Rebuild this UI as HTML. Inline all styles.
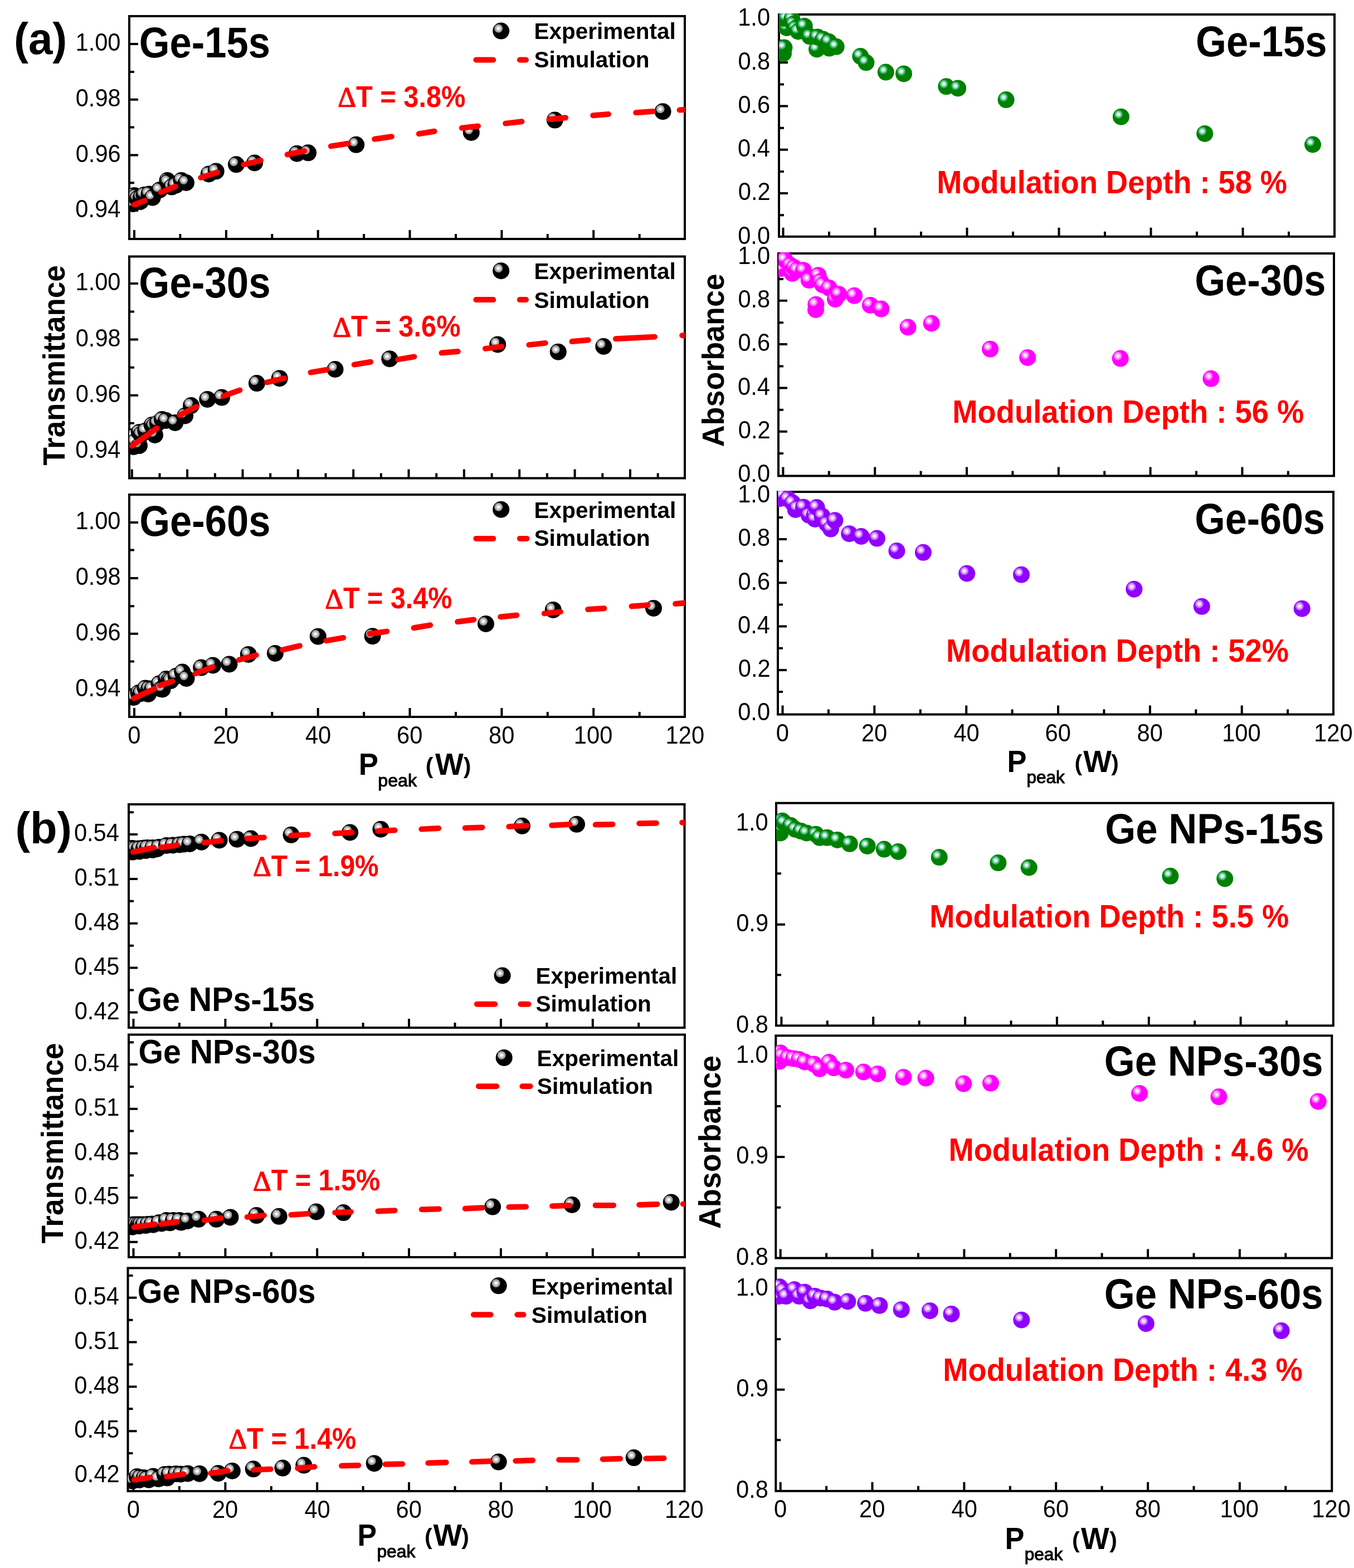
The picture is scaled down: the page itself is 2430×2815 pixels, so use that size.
<!DOCTYPE html><html><head><meta charset="utf-8"><title>Figure</title><style>html,body{margin:0;padding:0;background:#fff;}svg{display:block;}text{font-family:"Liberation Sans",Arial,sans-serif;}</style></head><body>
<svg width="2430" height="2815" viewBox="0 0 2430 2815">
<rect width="2430" height="2815" fill="#fff"/>
<defs><clipPath id="cL1"><rect x="232.0" y="27.0" width="997.5" height="402.0"/></clipPath><clipPath id="cL2"><rect x="232.0" y="458.5" width="997.5" height="400.0"/></clipPath><clipPath id="cL3"><rect x="232.0" y="886.0" width="997.5" height="401.0"/></clipPath><clipPath id="cR1"><rect x="1398.0" y="24.0" width="997.5" height="400.8"/></clipPath><clipPath id="cR2"><rect x="1397.0" y="453.0" width="997.5" height="401.4"/></clipPath><clipPath id="cR3"><rect x="1396.0" y="881.0" width="997.5" height="401.6"/></clipPath><clipPath id="cLB1"><rect x="231.0" y="1442.0" width="998.0" height="403.0"/></clipPath><clipPath id="cLB2"><rect x="231.0" y="1855.5" width="998.5" height="401.5"/></clipPath><clipPath id="cLB3"><rect x="229.5" y="2274.5" width="999.5" height="402.5"/></clipPath><clipPath id="cRB1"><rect x="1393.0" y="1439.7" width="1000.3" height="401.6"/></clipPath><clipPath id="cRB2"><rect x="1392.3" y="1857.3" width="998.5" height="401.3"/></clipPath><clipPath id="cRB3"><rect x="1392.3" y="2274.8" width="998.5" height="402.0"/></clipPath></defs>
<path d="M232.0 79.0H248.0M232.0 178.7H248.0M232.0 278.4H248.0M232.0 378.1H248.0M232.0 128.9H241.0M232.0 228.5H241.0M232.0 328.3H241.0M241.0 429.0V413.0M405.9 429.0V413.0M570.7 429.0V413.0M735.5 429.0V413.0M900.4 429.0V413.0M1065.2 429.0V413.0M323.4 429.0V420.0M488.3 429.0V420.0M653.1 429.0V420.0M818.0 429.0V420.0M982.8 429.0V420.0M1147.7 429.0V420.0" stroke="#000" stroke-width="4" fill="none"/><rect x="232.0" y="29.0" width="997.0" height="400.0" fill="none" stroke="#000" stroke-width="4"/><g clip-path="url(#cL1)"><circle cx="239.0" cy="366.0" r="15" fill="#000000"/><circle cx="234.5" cy="361.5" r="7.5" fill="#9a9a9a"/><circle cx="234.5" cy="361.5" r="5" fill="#cbcbcb"/><circle cx="234.5" cy="361.5" r="2.5" fill="#ffffff"/><circle cx="241.0" cy="351.0" r="15" fill="#000000"/><circle cx="236.5" cy="346.5" r="7.5" fill="#9a9a9a"/><circle cx="236.5" cy="346.5" r="5" fill="#cbcbcb"/><circle cx="236.5" cy="346.5" r="2.5" fill="#ffffff"/><circle cx="243.5" cy="353.0" r="15" fill="#000000"/><circle cx="239.0" cy="348.5" r="7.5" fill="#9a9a9a"/><circle cx="239.0" cy="348.5" r="5" fill="#cbcbcb"/><circle cx="239.0" cy="348.5" r="2.5" fill="#ffffff"/><circle cx="246.5" cy="357.0" r="15" fill="#000000"/><circle cx="242.0" cy="352.5" r="7.5" fill="#9a9a9a"/><circle cx="242.0" cy="352.5" r="5" fill="#cbcbcb"/><circle cx="242.0" cy="352.5" r="2.5" fill="#ffffff"/><circle cx="252.0" cy="362.0" r="15" fill="#000000"/><circle cx="247.5" cy="357.5" r="7.5" fill="#9a9a9a"/><circle cx="247.5" cy="357.5" r="5" fill="#cbcbcb"/><circle cx="247.5" cy="357.5" r="2.5" fill="#ffffff"/><circle cx="253.0" cy="355.0" r="15" fill="#000000"/><circle cx="248.5" cy="350.5" r="7.5" fill="#9a9a9a"/><circle cx="248.5" cy="350.5" r="5" fill="#cbcbcb"/><circle cx="248.5" cy="350.5" r="2.5" fill="#ffffff"/><circle cx="258.5" cy="350.0" r="15" fill="#000000"/><circle cx="254.0" cy="345.5" r="7.5" fill="#9a9a9a"/><circle cx="254.0" cy="345.5" r="5" fill="#cbcbcb"/><circle cx="254.0" cy="345.5" r="2.5" fill="#ffffff"/><circle cx="267.5" cy="348.5" r="15" fill="#000000"/><circle cx="263.0" cy="344.0" r="7.5" fill="#9a9a9a"/><circle cx="263.0" cy="344.0" r="5" fill="#cbcbcb"/><circle cx="263.0" cy="344.0" r="2.5" fill="#ffffff"/><circle cx="273.7" cy="354.7" r="15" fill="#000000"/><circle cx="269.2" cy="350.2" r="7.5" fill="#9a9a9a"/><circle cx="269.2" cy="350.2" r="5" fill="#cbcbcb"/><circle cx="269.2" cy="350.2" r="2.5" fill="#ffffff"/><circle cx="286.3" cy="341.2" r="15" fill="#000000"/><circle cx="281.8" cy="336.7" r="7.5" fill="#9a9a9a"/><circle cx="281.8" cy="336.7" r="5" fill="#cbcbcb"/><circle cx="281.8" cy="336.7" r="2.5" fill="#ffffff"/><circle cx="300.4" cy="324.0" r="15" fill="#000000"/><circle cx="295.9" cy="319.5" r="7.5" fill="#9a9a9a"/><circle cx="295.9" cy="319.5" r="5" fill="#cbcbcb"/><circle cx="295.9" cy="319.5" r="2.5" fill="#ffffff"/><circle cx="301.4" cy="327.0" r="15" fill="#000000"/><circle cx="296.9" cy="322.5" r="7.5" fill="#9a9a9a"/><circle cx="296.9" cy="322.5" r="5" fill="#cbcbcb"/><circle cx="296.9" cy="322.5" r="2.5" fill="#ffffff"/><circle cx="308.0" cy="335.6" r="15" fill="#000000"/><circle cx="303.5" cy="331.1" r="7.5" fill="#9a9a9a"/><circle cx="303.5" cy="331.1" r="5" fill="#cbcbcb"/><circle cx="303.5" cy="331.1" r="2.5" fill="#ffffff"/><circle cx="315.5" cy="332.6" r="15" fill="#000000"/><circle cx="311.0" cy="328.1" r="7.5" fill="#9a9a9a"/><circle cx="311.0" cy="328.1" r="5" fill="#cbcbcb"/><circle cx="311.0" cy="328.1" r="2.5" fill="#ffffff"/><circle cx="325.5" cy="324.0" r="15" fill="#000000"/><circle cx="321.0" cy="319.5" r="7.5" fill="#9a9a9a"/><circle cx="321.0" cy="319.5" r="5" fill="#cbcbcb"/><circle cx="321.0" cy="319.5" r="2.5" fill="#ffffff"/><circle cx="334.0" cy="328.0" r="15" fill="#000000"/><circle cx="329.5" cy="323.5" r="7.5" fill="#9a9a9a"/><circle cx="329.5" cy="323.5" r="5" fill="#cbcbcb"/><circle cx="329.5" cy="323.5" r="2.5" fill="#ffffff"/><circle cx="374.8" cy="312.4" r="15" fill="#000000"/><circle cx="370.3" cy="307.9" r="7.5" fill="#9a9a9a"/><circle cx="370.3" cy="307.9" r="5" fill="#cbcbcb"/><circle cx="370.3" cy="307.9" r="2.5" fill="#ffffff"/><circle cx="387.7" cy="307.4" r="15" fill="#000000"/><circle cx="383.2" cy="302.9" r="7.5" fill="#9a9a9a"/><circle cx="383.2" cy="302.9" r="5" fill="#cbcbcb"/><circle cx="383.2" cy="302.9" r="2.5" fill="#ffffff"/><circle cx="424.0" cy="295.3" r="15" fill="#000000"/><circle cx="419.5" cy="290.8" r="7.5" fill="#9a9a9a"/><circle cx="419.5" cy="290.8" r="5" fill="#cbcbcb"/><circle cx="419.5" cy="290.8" r="2.5" fill="#ffffff"/><circle cx="457.0" cy="292.5" r="15" fill="#000000"/><circle cx="452.5" cy="288.0" r="7.5" fill="#9a9a9a"/><circle cx="452.5" cy="288.0" r="5" fill="#cbcbcb"/><circle cx="452.5" cy="288.0" r="2.5" fill="#ffffff"/><circle cx="533.0" cy="275.7" r="15" fill="#000000"/><circle cx="528.5" cy="271.2" r="7.5" fill="#9a9a9a"/><circle cx="528.5" cy="271.2" r="5" fill="#cbcbcb"/><circle cx="528.5" cy="271.2" r="2.5" fill="#ffffff"/><circle cx="553.1" cy="274.3" r="15" fill="#000000"/><circle cx="548.6" cy="269.8" r="7.5" fill="#9a9a9a"/><circle cx="548.6" cy="269.8" r="5" fill="#cbcbcb"/><circle cx="548.6" cy="269.8" r="2.5" fill="#ffffff"/><circle cx="639.2" cy="259.8" r="15" fill="#000000"/><circle cx="634.7" cy="255.3" r="7.5" fill="#9a9a9a"/><circle cx="634.7" cy="255.3" r="5" fill="#cbcbcb"/><circle cx="634.7" cy="255.3" r="2.5" fill="#ffffff"/><circle cx="845.8" cy="237.9" r="15" fill="#000000"/><circle cx="841.3" cy="233.4" r="7.5" fill="#9a9a9a"/><circle cx="841.3" cy="233.4" r="5" fill="#cbcbcb"/><circle cx="841.3" cy="233.4" r="2.5" fill="#ffffff"/><circle cx="995.8" cy="215.6" r="15" fill="#000000"/><circle cx="991.3" cy="211.1" r="7.5" fill="#9a9a9a"/><circle cx="991.3" cy="211.1" r="5" fill="#cbcbcb"/><circle cx="991.3" cy="211.1" r="2.5" fill="#ffffff"/><circle cx="1189.6" cy="200.2" r="15" fill="#000000"/><circle cx="1185.1" cy="195.7" r="7.5" fill="#9a9a9a"/><circle cx="1185.1" cy="195.7" r="5" fill="#cbcbcb"/><circle cx="1185.1" cy="195.7" r="2.5" fill="#ffffff"/><g stroke="#ff0000" stroke-width="10" stroke-linecap="round"><line x1="241.4" y1="367.5" x2="260.1" y2="360.1"/><line x1="288.9" y1="345.1" x2="314.6" y2="334.9"/><line x1="360.3" y1="318.9" x2="389.9" y2="309.4"/><line x1="437.3" y1="295.5" x2="468.0" y2="288.1"/><line x1="515.6" y1="277.5" x2="546.3" y2="271.1"/><line x1="593.8" y1="262.4" x2="624.5" y2="257.8"/><line x1="672.1" y1="249.8" x2="702.8" y2="245.2"/><line x1="751.7" y1="240.2" x2="779.6" y2="235.8"/><line x1="828.8" y1="229.8" x2="858.0" y2="226.5"/><line x1="907.2" y1="221.6" x2="936.5" y2="218.3"/><line x1="985.7" y1="214.2" x2="1015.0" y2="211.3"/><line x1="1064.2" y1="207.3" x2="1092.0" y2="205.1"/><line x1="1141.2" y1="202.2" x2="1172.0" y2="200.0"/><line x1="1219.6" y1="197.6" x2="1231.0" y2="196.8"/></g></g><text x="135.5" y="91.2" font-size="43.5" font-weight="normal" fill="#000" textLength="81.0" lengthAdjust="spacingAndGlyphs">1.00</text><text x="135.7" y="190.9" font-size="43.5" font-weight="normal" fill="#000" textLength="81.0" lengthAdjust="spacingAndGlyphs">0.98</text><text x="135.7" y="290.6" font-size="43.5" font-weight="normal" fill="#000" textLength="81.0" lengthAdjust="spacingAndGlyphs">0.96</text><text x="135.3" y="390.3" font-size="43.5" font-weight="normal" fill="#000" textLength="81.0" lengthAdjust="spacingAndGlyphs">0.94</text>
<path d="M232.0 509.0H248.0M232.0 609.5H248.0M232.0 709.8H248.0M232.0 810.0H248.0M232.0 559.6H241.0M232.0 659.8H241.0M232.0 759.7H241.0M236.8 858.5V842.5M336.1 858.5V842.5M435.5 858.5V842.5M534.8 858.5V842.5M634.2 858.5V842.5M733.5 858.5V842.5M832.9 858.5V842.5M932.2 858.5V842.5M1031.6 858.5V842.5M1131.0 858.5V842.5M286.5 858.5V849.5M385.9 858.5V849.5M485.2 858.5V849.5M584.5 858.5V849.5M683.9 858.5V849.5M783.2 858.5V849.5M882.6 858.5V849.5M981.9 858.5V849.5M1081.3 858.5V849.5M1180.7 858.5V849.5" stroke="#000" stroke-width="4" fill="none"/><rect x="232.0" y="460.5" width="997.0" height="398.0" fill="none" stroke="#000" stroke-width="4"/><g clip-path="url(#cL2)"><circle cx="237.5" cy="784.1" r="15" fill="#000000"/><circle cx="233.0" cy="779.6" r="7.5" fill="#9a9a9a"/><circle cx="233.0" cy="779.6" r="5" fill="#cbcbcb"/><circle cx="233.0" cy="779.6" r="2.5" fill="#ffffff"/><circle cx="240.0" cy="802.0" r="15" fill="#000000"/><circle cx="235.5" cy="797.5" r="7.5" fill="#9a9a9a"/><circle cx="235.5" cy="797.5" r="5" fill="#cbcbcb"/><circle cx="235.5" cy="797.5" r="2.5" fill="#ffffff"/><circle cx="241.9" cy="792.9" r="15" fill="#000000"/><circle cx="237.4" cy="788.4" r="7.5" fill="#9a9a9a"/><circle cx="237.4" cy="788.4" r="5" fill="#cbcbcb"/><circle cx="237.4" cy="788.4" r="2.5" fill="#ffffff"/><circle cx="249.9" cy="776.0" r="15" fill="#000000"/><circle cx="245.4" cy="771.5" r="7.5" fill="#9a9a9a"/><circle cx="245.4" cy="771.5" r="5" fill="#cbcbcb"/><circle cx="245.4" cy="771.5" r="2.5" fill="#ffffff"/><circle cx="250.0" cy="800.0" r="15" fill="#000000"/><circle cx="245.5" cy="795.5" r="7.5" fill="#9a9a9a"/><circle cx="245.5" cy="795.5" r="5" fill="#cbcbcb"/><circle cx="245.5" cy="795.5" r="2.5" fill="#ffffff"/><circle cx="253.3" cy="780.1" r="15" fill="#000000"/><circle cx="248.8" cy="775.6" r="7.5" fill="#9a9a9a"/><circle cx="248.8" cy="775.6" r="5" fill="#cbcbcb"/><circle cx="248.8" cy="775.6" r="2.5" fill="#ffffff"/><circle cx="261.3" cy="773.4" r="15" fill="#000000"/><circle cx="256.8" cy="768.9" r="7.5" fill="#9a9a9a"/><circle cx="256.8" cy="768.9" r="5" fill="#cbcbcb"/><circle cx="256.8" cy="768.9" r="2.5" fill="#ffffff"/><circle cx="272.7" cy="763.0" r="15" fill="#000000"/><circle cx="268.2" cy="758.5" r="7.5" fill="#9a9a9a"/><circle cx="268.2" cy="758.5" r="5" fill="#cbcbcb"/><circle cx="268.2" cy="758.5" r="2.5" fill="#ffffff"/><circle cx="276.1" cy="765.4" r="15" fill="#000000"/><circle cx="271.6" cy="760.9" r="7.5" fill="#9a9a9a"/><circle cx="271.6" cy="760.9" r="5" fill="#cbcbcb"/><circle cx="271.6" cy="760.9" r="2.5" fill="#ffffff"/><circle cx="278.0" cy="781.0" r="15" fill="#000000"/><circle cx="273.5" cy="776.5" r="7.5" fill="#9a9a9a"/><circle cx="273.5" cy="776.5" r="5" fill="#cbcbcb"/><circle cx="273.5" cy="776.5" r="2.5" fill="#ffffff"/><circle cx="282.8" cy="760.0" r="15" fill="#000000"/><circle cx="278.3" cy="755.5" r="7.5" fill="#9a9a9a"/><circle cx="278.3" cy="755.5" r="5" fill="#cbcbcb"/><circle cx="278.3" cy="755.5" r="2.5" fill="#ffffff"/><circle cx="290.9" cy="753.0" r="15" fill="#000000"/><circle cx="286.4" cy="748.5" r="7.5" fill="#9a9a9a"/><circle cx="286.4" cy="748.5" r="5" fill="#cbcbcb"/><circle cx="286.4" cy="748.5" r="2.5" fill="#ffffff"/><circle cx="297.9" cy="755.0" r="15" fill="#000000"/><circle cx="293.4" cy="750.5" r="7.5" fill="#9a9a9a"/><circle cx="293.4" cy="750.5" r="5" fill="#cbcbcb"/><circle cx="293.4" cy="750.5" r="2.5" fill="#ffffff"/><circle cx="314.3" cy="759.0" r="15" fill="#000000"/><circle cx="309.8" cy="754.5" r="7.5" fill="#9a9a9a"/><circle cx="309.8" cy="754.5" r="5" fill="#cbcbcb"/><circle cx="309.8" cy="754.5" r="2.5" fill="#ffffff"/><circle cx="332.1" cy="746.5" r="15" fill="#000000"/><circle cx="327.6" cy="742.0" r="7.5" fill="#9a9a9a"/><circle cx="327.6" cy="742.0" r="5" fill="#cbcbcb"/><circle cx="327.6" cy="742.0" r="2.5" fill="#ffffff"/><circle cx="343.0" cy="728.1" r="15" fill="#000000"/><circle cx="338.5" cy="723.6" r="7.5" fill="#9a9a9a"/><circle cx="338.5" cy="723.6" r="5" fill="#cbcbcb"/><circle cx="338.5" cy="723.6" r="2.5" fill="#ffffff"/><circle cx="372.3" cy="716.9" r="15" fill="#000000"/><circle cx="367.8" cy="712.4" r="7.5" fill="#9a9a9a"/><circle cx="367.8" cy="712.4" r="5" fill="#cbcbcb"/><circle cx="367.8" cy="712.4" r="2.5" fill="#ffffff"/><circle cx="398.0" cy="713.6" r="15" fill="#000000"/><circle cx="393.5" cy="709.1" r="7.5" fill="#9a9a9a"/><circle cx="393.5" cy="709.1" r="5" fill="#cbcbcb"/><circle cx="393.5" cy="709.1" r="2.5" fill="#ffffff"/><circle cx="460.9" cy="688.1" r="15" fill="#000000"/><circle cx="456.4" cy="683.6" r="7.5" fill="#9a9a9a"/><circle cx="456.4" cy="683.6" r="5" fill="#cbcbcb"/><circle cx="456.4" cy="683.6" r="2.5" fill="#ffffff"/><circle cx="501.7" cy="679.2" r="15" fill="#000000"/><circle cx="497.2" cy="674.7" r="7.5" fill="#9a9a9a"/><circle cx="497.2" cy="674.7" r="5" fill="#cbcbcb"/><circle cx="497.2" cy="674.7" r="2.5" fill="#ffffff"/><circle cx="601.5" cy="663.0" r="15" fill="#000000"/><circle cx="597.0" cy="658.5" r="7.5" fill="#9a9a9a"/><circle cx="597.0" cy="658.5" r="5" fill="#cbcbcb"/><circle cx="597.0" cy="658.5" r="2.5" fill="#ffffff"/><circle cx="699.3" cy="644.2" r="15" fill="#000000"/><circle cx="694.8" cy="639.7" r="7.5" fill="#9a9a9a"/><circle cx="694.8" cy="639.7" r="5" fill="#cbcbcb"/><circle cx="694.8" cy="639.7" r="2.5" fill="#ffffff"/><circle cx="893.2" cy="618.4" r="15" fill="#000000"/><circle cx="888.7" cy="613.9" r="7.5" fill="#9a9a9a"/><circle cx="888.7" cy="613.9" r="5" fill="#cbcbcb"/><circle cx="888.7" cy="613.9" r="2.5" fill="#ffffff"/><circle cx="1001.8" cy="631.7" r="15" fill="#000000"/><circle cx="997.3" cy="627.2" r="7.5" fill="#9a9a9a"/><circle cx="997.3" cy="627.2" r="5" fill="#cbcbcb"/><circle cx="997.3" cy="627.2" r="2.5" fill="#ffffff"/><circle cx="1083.3" cy="622.0" r="15" fill="#000000"/><circle cx="1078.8" cy="617.5" r="7.5" fill="#9a9a9a"/><circle cx="1078.8" cy="617.5" r="5" fill="#cbcbcb"/><circle cx="1078.8" cy="617.5" r="2.5" fill="#ffffff"/><g stroke="#ff0000" stroke-width="10" stroke-linecap="round"><line x1="236.7" y1="800.6" x2="281.6" y2="768.7"/><line x1="322.3" y1="745.5" x2="352.5" y2="730.3"/><line x1="400.8" y1="711.0" x2="430.5" y2="700.4"/><line x1="479.2" y1="686.4" x2="510.0" y2="679.0"/><line x1="557.5" y1="668.6" x2="586.8" y2="663.8"/><line x1="635.7" y1="654.6" x2="665.1" y2="649.8"/><line x1="713.9" y1="645.4" x2="743.4" y2="640.4"/><line x1="792.5" y1="633.6" x2="821.8" y2="631.0"/><line x1="871.0" y1="625.9" x2="900.3" y2="622.1"/><line x1="949.5" y1="619.1" x2="978.7" y2="615.9"/><line x1="1026.5" y1="613.1" x2="1055.7" y2="610.5"/><line x1="1104.9" y1="608.3" x2="1174.9" y2="604.7"/><line x1="1224.2" y1="602.2" x2="1231.0" y2="602.0"/></g></g><text x="135.5" y="521.2" font-size="43.5" font-weight="normal" fill="#000" textLength="81.0" lengthAdjust="spacingAndGlyphs">1.00</text><text x="135.7" y="621.7" font-size="43.5" font-weight="normal" fill="#000" textLength="81.0" lengthAdjust="spacingAndGlyphs">0.98</text><text x="135.7" y="722.0" font-size="43.5" font-weight="normal" fill="#000" textLength="81.0" lengthAdjust="spacingAndGlyphs">0.96</text><text x="135.3" y="822.2" font-size="43.5" font-weight="normal" fill="#000" textLength="81.0" lengthAdjust="spacingAndGlyphs">0.94</text>
<path d="M232.0 938.1H248.0M232.0 1037.9H248.0M232.0 1137.7H248.0M232.0 1237.7H248.0M232.0 987.6H241.0M232.0 1088.2H241.0M232.0 1187.4H241.0M241.0 1287.0V1271.0M405.9 1287.0V1271.0M570.7 1287.0V1271.0M735.5 1287.0V1271.0M900.4 1287.0V1271.0M1065.2 1287.0V1271.0M323.4 1287.0V1278.0M488.3 1287.0V1278.0M653.1 1287.0V1278.0M818.0 1287.0V1278.0M982.8 1287.0V1278.0M1147.7 1287.0V1278.0" stroke="#000" stroke-width="4" fill="none"/><rect x="232.0" y="888.0" width="997.0" height="399.0" fill="none" stroke="#000" stroke-width="4"/><g clip-path="url(#cL3)"><circle cx="240.0" cy="1252.0" r="15" fill="#000000"/><circle cx="235.5" cy="1247.5" r="7.5" fill="#9a9a9a"/><circle cx="235.5" cy="1247.5" r="5" fill="#cbcbcb"/><circle cx="235.5" cy="1247.5" r="2.5" fill="#ffffff"/><circle cx="248.6" cy="1244.0" r="15" fill="#000000"/><circle cx="244.1" cy="1239.5" r="7.5" fill="#9a9a9a"/><circle cx="244.1" cy="1239.5" r="5" fill="#cbcbcb"/><circle cx="244.1" cy="1239.5" r="2.5" fill="#ffffff"/><circle cx="252.6" cy="1245.0" r="15" fill="#000000"/><circle cx="248.1" cy="1240.5" r="7.5" fill="#9a9a9a"/><circle cx="248.1" cy="1240.5" r="5" fill="#cbcbcb"/><circle cx="248.1" cy="1240.5" r="2.5" fill="#ffffff"/><circle cx="260.7" cy="1235.5" r="15" fill="#000000"/><circle cx="256.2" cy="1231.0" r="7.5" fill="#9a9a9a"/><circle cx="256.2" cy="1231.0" r="5" fill="#cbcbcb"/><circle cx="256.2" cy="1231.0" r="2.5" fill="#ffffff"/><circle cx="266.0" cy="1246.0" r="15" fill="#000000"/><circle cx="261.5" cy="1241.5" r="7.5" fill="#9a9a9a"/><circle cx="261.5" cy="1241.5" r="5" fill="#cbcbcb"/><circle cx="261.5" cy="1241.5" r="2.5" fill="#ffffff"/><circle cx="267.4" cy="1236.5" r="15" fill="#000000"/><circle cx="262.9" cy="1232.0" r="7.5" fill="#9a9a9a"/><circle cx="262.9" cy="1232.0" r="5" fill="#cbcbcb"/><circle cx="262.9" cy="1232.0" r="2.5" fill="#ffffff"/><circle cx="273.4" cy="1237.0" r="15" fill="#000000"/><circle cx="268.9" cy="1232.5" r="7.5" fill="#9a9a9a"/><circle cx="268.9" cy="1232.5" r="5" fill="#cbcbcb"/><circle cx="268.9" cy="1232.5" r="2.5" fill="#ffffff"/><circle cx="285.5" cy="1227.5" r="15" fill="#000000"/><circle cx="281.0" cy="1223.0" r="7.5" fill="#9a9a9a"/><circle cx="281.0" cy="1223.0" r="5" fill="#cbcbcb"/><circle cx="281.0" cy="1223.0" r="2.5" fill="#ffffff"/><circle cx="289.0" cy="1237.0" r="15" fill="#000000"/><circle cx="284.5" cy="1232.5" r="7.5" fill="#9a9a9a"/><circle cx="284.5" cy="1232.5" r="5" fill="#cbcbcb"/><circle cx="284.5" cy="1232.5" r="2.5" fill="#ffffff"/><circle cx="291.5" cy="1237.5" r="15" fill="#000000"/><circle cx="287.0" cy="1233.0" r="7.5" fill="#9a9a9a"/><circle cx="287.0" cy="1233.0" r="5" fill="#cbcbcb"/><circle cx="287.0" cy="1233.0" r="2.5" fill="#ffffff"/><circle cx="298.2" cy="1219.0" r="15" fill="#000000"/><circle cx="293.7" cy="1214.5" r="7.5" fill="#9a9a9a"/><circle cx="293.7" cy="1214.5" r="5" fill="#cbcbcb"/><circle cx="293.7" cy="1214.5" r="2.5" fill="#ffffff"/><circle cx="303.6" cy="1220.5" r="15" fill="#000000"/><circle cx="299.1" cy="1216.0" r="7.5" fill="#9a9a9a"/><circle cx="299.1" cy="1216.0" r="5" fill="#cbcbcb"/><circle cx="299.1" cy="1216.0" r="2.5" fill="#ffffff"/><circle cx="306.3" cy="1222.1" r="15" fill="#000000"/><circle cx="301.8" cy="1217.6" r="7.5" fill="#9a9a9a"/><circle cx="301.8" cy="1217.6" r="5" fill="#cbcbcb"/><circle cx="301.8" cy="1217.6" r="2.5" fill="#ffffff"/><circle cx="315.7" cy="1214.0" r="15" fill="#000000"/><circle cx="311.2" cy="1209.5" r="7.5" fill="#9a9a9a"/><circle cx="311.2" cy="1209.5" r="5" fill="#cbcbcb"/><circle cx="311.2" cy="1209.5" r="2.5" fill="#ffffff"/><circle cx="327.4" cy="1206.6" r="15" fill="#000000"/><circle cx="322.9" cy="1202.1" r="7.5" fill="#9a9a9a"/><circle cx="322.9" cy="1202.1" r="5" fill="#cbcbcb"/><circle cx="322.9" cy="1202.1" r="2.5" fill="#ffffff"/><circle cx="334.5" cy="1218.0" r="15" fill="#000000"/><circle cx="330.0" cy="1213.5" r="7.5" fill="#9a9a9a"/><circle cx="330.0" cy="1213.5" r="5" fill="#cbcbcb"/><circle cx="330.0" cy="1213.5" r="2.5" fill="#ffffff"/><circle cx="361.1" cy="1198.6" r="15" fill="#000000"/><circle cx="356.6" cy="1194.1" r="7.5" fill="#9a9a9a"/><circle cx="356.6" cy="1194.1" r="5" fill="#cbcbcb"/><circle cx="356.6" cy="1194.1" r="2.5" fill="#ffffff"/><circle cx="382.1" cy="1194.4" r="15" fill="#000000"/><circle cx="377.6" cy="1189.9" r="7.5" fill="#9a9a9a"/><circle cx="377.6" cy="1189.9" r="5" fill="#cbcbcb"/><circle cx="377.6" cy="1189.9" r="2.5" fill="#ffffff"/><circle cx="411.4" cy="1192.5" r="15" fill="#000000"/><circle cx="406.9" cy="1188.0" r="7.5" fill="#9a9a9a"/><circle cx="406.9" cy="1188.0" r="5" fill="#cbcbcb"/><circle cx="406.9" cy="1188.0" r="2.5" fill="#ffffff"/><circle cx="445.8" cy="1174.9" r="15" fill="#000000"/><circle cx="441.3" cy="1170.4" r="7.5" fill="#9a9a9a"/><circle cx="441.3" cy="1170.4" r="5" fill="#cbcbcb"/><circle cx="441.3" cy="1170.4" r="2.5" fill="#ffffff"/><circle cx="493.9" cy="1172.9" r="15" fill="#000000"/><circle cx="489.4" cy="1168.4" r="7.5" fill="#9a9a9a"/><circle cx="489.4" cy="1168.4" r="5" fill="#cbcbcb"/><circle cx="489.4" cy="1168.4" r="2.5" fill="#ffffff"/><circle cx="570.8" cy="1142.7" r="15" fill="#000000"/><circle cx="566.3" cy="1138.2" r="7.5" fill="#9a9a9a"/><circle cx="566.3" cy="1138.2" r="5" fill="#cbcbcb"/><circle cx="566.3" cy="1138.2" r="2.5" fill="#ffffff"/><circle cx="668.6" cy="1142.2" r="15" fill="#000000"/><circle cx="664.1" cy="1137.7" r="7.5" fill="#9a9a9a"/><circle cx="664.1" cy="1137.7" r="5" fill="#cbcbcb"/><circle cx="664.1" cy="1137.7" r="2.5" fill="#ffffff"/><circle cx="872.0" cy="1120.0" r="15" fill="#000000"/><circle cx="867.5" cy="1115.5" r="7.5" fill="#9a9a9a"/><circle cx="867.5" cy="1115.5" r="5" fill="#cbcbcb"/><circle cx="867.5" cy="1115.5" r="2.5" fill="#ffffff"/><circle cx="992.8" cy="1094.9" r="15" fill="#000000"/><circle cx="988.3" cy="1090.4" r="7.5" fill="#9a9a9a"/><circle cx="988.3" cy="1090.4" r="5" fill="#cbcbcb"/><circle cx="988.3" cy="1090.4" r="2.5" fill="#ffffff"/><circle cx="1173.0" cy="1091.9" r="15" fill="#000000"/><circle cx="1168.5" cy="1087.4" r="7.5" fill="#9a9a9a"/><circle cx="1168.5" cy="1087.4" r="5" fill="#cbcbcb"/><circle cx="1168.5" cy="1087.4" r="2.5" fill="#ffffff"/><g stroke="#ff0000" stroke-width="10" stroke-linecap="round"><line x1="240.5" y1="1253.7" x2="277.2" y2="1236.4"/><line x1="287.0" y1="1230.7" x2="309.2" y2="1223.2"/><line x1="350.5" y1="1209.4" x2="381.6" y2="1197.6"/><line x1="428.8" y1="1184.7" x2="459.8" y2="1176.2"/><line x1="507.2" y1="1166.7" x2="537.9" y2="1159.3"/><line x1="585.4" y1="1150.3" x2="616.2" y2="1144.9"/><line x1="663.8" y1="1137.8" x2="694.3" y2="1133.6"/><line x1="742.6" y1="1127.3" x2="772.1" y2="1122.3"/><line x1="821.2" y1="1116.3" x2="850.4" y2="1112.5"/><line x1="898.2" y1="1107.4" x2="927.4" y2="1104.5"/><line x1="976.7" y1="1101.4" x2="1005.9" y2="1098.4"/><line x1="1055.1" y1="1094.0" x2="1084.4" y2="1092.2"/><line x1="1133.6" y1="1088.5" x2="1162.9" y2="1086.3"/><line x1="1212.1" y1="1084.1" x2="1231.0" y2="1082.3"/></g></g><text x="135.5" y="950.3" font-size="43.5" font-weight="normal" fill="#000" textLength="81.0" lengthAdjust="spacingAndGlyphs">1.00</text><text x="135.7" y="1050.1" font-size="43.5" font-weight="normal" fill="#000" textLength="81.0" lengthAdjust="spacingAndGlyphs">0.98</text><text x="135.7" y="1149.9" font-size="43.5" font-weight="normal" fill="#000" textLength="81.0" lengthAdjust="spacingAndGlyphs">0.96</text><text x="135.3" y="1249.9" font-size="43.5" font-weight="normal" fill="#000" textLength="81.0" lengthAdjust="spacingAndGlyphs">0.94</text><text x="229.3" y="1334.6" font-size="43.5" font-weight="normal" fill="#000" textLength="23.2" lengthAdjust="spacingAndGlyphs">0</text><text x="382.4" y="1334.6" font-size="43.5" font-weight="normal" fill="#000" textLength="46.3" lengthAdjust="spacingAndGlyphs">20</text><text x="547.9" y="1334.6" font-size="43.5" font-weight="normal" fill="#000" textLength="46.3" lengthAdjust="spacingAndGlyphs">40</text><text x="712.1" y="1334.6" font-size="43.5" font-weight="normal" fill="#000" textLength="46.3" lengthAdjust="spacingAndGlyphs">60</text><text x="877.1" y="1334.6" font-size="43.5" font-weight="normal" fill="#000" textLength="46.3" lengthAdjust="spacingAndGlyphs">80</text><text x="1029.8" y="1334.6" font-size="43.5" font-weight="normal" fill="#000" textLength="69.5" lengthAdjust="spacingAndGlyphs">100</text><text x="1194.6" y="1334.6" font-size="43.5" font-weight="normal" fill="#000" textLength="69.5" lengthAdjust="spacingAndGlyphs">120</text>
<path d="M1398.0 34.0H1414.0M1398.0 112.3H1414.0M1398.0 190.5H1414.0M1398.0 268.8H1414.0M1398.0 347.0H1414.0M1398.0 73.2H1407.0M1398.0 151.5H1407.0M1398.0 229.7H1407.0M1398.0 308.0H1407.0M1398.0 386.2H1407.0M1405.5 424.8V408.8M1570.5 424.8V408.8M1735.5 424.8V408.8M1900.5 424.8V408.8M2065.5 424.8V408.8M2230.5 424.8V408.8M1488.0 424.8V415.8M1653.0 424.8V415.8M1818.0 424.8V415.8M1983.0 424.8V415.8M2148.0 424.8V415.8M2313.0 424.8V415.8" stroke="#000" stroke-width="4" fill="none"/><rect x="1398.0" y="26.0" width="997.0" height="398.8" fill="none" stroke="#000" stroke-width="4"/><g clip-path="url(#cR1)"><circle cx="1466.0" cy="88.5" r="15" fill="#008000"/><circle cx="1461.5" cy="84.0" r="7.5" fill="#33b874"/><circle cx="1461.5" cy="84.0" r="5" fill="#a6dcb9"/><circle cx="1461.5" cy="84.0" r="2.5" fill="#f4fff6"/><circle cx="1488.4" cy="86.6" r="15" fill="#008000"/><circle cx="1483.9" cy="82.1" r="7.5" fill="#33b874"/><circle cx="1483.9" cy="82.1" r="5" fill="#a6dcb9"/><circle cx="1483.9" cy="82.1" r="2.5" fill="#f4fff6"/><circle cx="1405.0" cy="45.0" r="15" fill="#008000"/><circle cx="1400.5" cy="40.5" r="7.5" fill="#33b874"/><circle cx="1400.5" cy="40.5" r="5" fill="#a6dcb9"/><circle cx="1400.5" cy="40.5" r="2.5" fill="#f4fff6"/><circle cx="1412.0" cy="50.0" r="15" fill="#008000"/><circle cx="1407.5" cy="45.5" r="7.5" fill="#33b874"/><circle cx="1407.5" cy="45.5" r="5" fill="#a6dcb9"/><circle cx="1407.5" cy="45.5" r="2.5" fill="#f4fff6"/><circle cx="1406.0" cy="96.0" r="15" fill="#008000"/><circle cx="1401.5" cy="91.5" r="7.5" fill="#33b874"/><circle cx="1401.5" cy="91.5" r="5" fill="#a6dcb9"/><circle cx="1401.5" cy="91.5" r="2.5" fill="#f4fff6"/><circle cx="1405.7" cy="32.9" r="15" fill="#008000"/><circle cx="1401.2" cy="28.4" r="7.5" fill="#33b874"/><circle cx="1401.2" cy="28.4" r="5" fill="#a6dcb9"/><circle cx="1401.2" cy="28.4" r="2.5" fill="#f4fff6"/><circle cx="1407.4" cy="85.5" r="15" fill="#008000"/><circle cx="1402.9" cy="81.0" r="7.5" fill="#33b874"/><circle cx="1402.9" cy="81.0" r="5" fill="#a6dcb9"/><circle cx="1402.9" cy="81.0" r="2.5" fill="#f4fff6"/><circle cx="1411.3" cy="32.9" r="15" fill="#008000"/><circle cx="1406.8" cy="28.4" r="7.5" fill="#33b874"/><circle cx="1406.8" cy="28.4" r="5" fill="#a6dcb9"/><circle cx="1406.8" cy="28.4" r="2.5" fill="#f4fff6"/><circle cx="1421.3" cy="34.0" r="15" fill="#008000"/><circle cx="1416.8" cy="29.5" r="7.5" fill="#33b874"/><circle cx="1416.8" cy="29.5" r="5" fill="#a6dcb9"/><circle cx="1416.8" cy="29.5" r="2.5" fill="#f4fff6"/><circle cx="1424.1" cy="43.0" r="15" fill="#008000"/><circle cx="1419.6" cy="38.5" r="7.5" fill="#33b874"/><circle cx="1419.6" cy="38.5" r="5" fill="#a6dcb9"/><circle cx="1419.6" cy="38.5" r="2.5" fill="#f4fff6"/><circle cx="1428.0" cy="50.8" r="15" fill="#008000"/><circle cx="1423.5" cy="46.3" r="7.5" fill="#33b874"/><circle cx="1423.5" cy="46.3" r="5" fill="#a6dcb9"/><circle cx="1423.5" cy="46.3" r="2.5" fill="#f4fff6"/><circle cx="1432.5" cy="56.4" r="15" fill="#008000"/><circle cx="1428.0" cy="51.9" r="7.5" fill="#33b874"/><circle cx="1428.0" cy="51.9" r="5" fill="#a6dcb9"/><circle cx="1428.0" cy="51.9" r="2.5" fill="#f4fff6"/><circle cx="1443.7" cy="46.9" r="15" fill="#008000"/><circle cx="1439.2" cy="42.4" r="7.5" fill="#33b874"/><circle cx="1439.2" cy="42.4" r="5" fill="#a6dcb9"/><circle cx="1439.2" cy="42.4" r="2.5" fill="#f4fff6"/><circle cx="1453.2" cy="65.3" r="15" fill="#008000"/><circle cx="1448.7" cy="60.8" r="7.5" fill="#33b874"/><circle cx="1448.7" cy="60.8" r="5" fill="#a6dcb9"/><circle cx="1448.7" cy="60.8" r="2.5" fill="#f4fff6"/><circle cx="1467.2" cy="66.5" r="15" fill="#008000"/><circle cx="1462.7" cy="62.0" r="7.5" fill="#33b874"/><circle cx="1462.7" cy="62.0" r="5" fill="#a6dcb9"/><circle cx="1462.7" cy="62.0" r="2.5" fill="#f4fff6"/><circle cx="1477.2" cy="70.4" r="15" fill="#008000"/><circle cx="1472.7" cy="65.9" r="7.5" fill="#33b874"/><circle cx="1472.7" cy="65.9" r="5" fill="#a6dcb9"/><circle cx="1472.7" cy="65.9" r="2.5" fill="#f4fff6"/><circle cx="1487.3" cy="74.8" r="15" fill="#008000"/><circle cx="1482.8" cy="70.3" r="7.5" fill="#33b874"/><circle cx="1482.8" cy="70.3" r="5" fill="#a6dcb9"/><circle cx="1482.8" cy="70.3" r="2.5" fill="#f4fff6"/><circle cx="1500.7" cy="83.8" r="15" fill="#008000"/><circle cx="1496.2" cy="79.3" r="7.5" fill="#33b874"/><circle cx="1496.2" cy="79.3" r="5" fill="#a6dcb9"/><circle cx="1496.2" cy="79.3" r="2.5" fill="#f4fff6"/><circle cx="1544.3" cy="101.1" r="15" fill="#008000"/><circle cx="1539.8" cy="96.6" r="7.5" fill="#33b874"/><circle cx="1539.8" cy="96.6" r="5" fill="#a6dcb9"/><circle cx="1539.8" cy="96.6" r="2.5" fill="#f4fff6"/><circle cx="1554.4" cy="112.3" r="15" fill="#008000"/><circle cx="1549.9" cy="107.8" r="7.5" fill="#33b874"/><circle cx="1549.9" cy="107.8" r="5" fill="#a6dcb9"/><circle cx="1549.9" cy="107.8" r="2.5" fill="#f4fff6"/><circle cx="1589.8" cy="129.6" r="15" fill="#008000"/><circle cx="1585.3" cy="125.1" r="7.5" fill="#33b874"/><circle cx="1585.3" cy="125.1" r="5" fill="#a6dcb9"/><circle cx="1585.3" cy="125.1" r="2.5" fill="#f4fff6"/><circle cx="1622.0" cy="132.4" r="15" fill="#008000"/><circle cx="1617.5" cy="127.9" r="7.5" fill="#33b874"/><circle cx="1617.5" cy="127.9" r="5" fill="#a6dcb9"/><circle cx="1617.5" cy="127.9" r="2.5" fill="#f4fff6"/><circle cx="1698.3" cy="155.3" r="15" fill="#008000"/><circle cx="1693.8" cy="150.8" r="7.5" fill="#33b874"/><circle cx="1693.8" cy="150.8" r="5" fill="#a6dcb9"/><circle cx="1693.8" cy="150.8" r="2.5" fill="#f4fff6"/><circle cx="1719.2" cy="158.4" r="15" fill="#008000"/><circle cx="1714.7" cy="153.9" r="7.5" fill="#33b874"/><circle cx="1714.7" cy="153.9" r="5" fill="#a6dcb9"/><circle cx="1714.7" cy="153.9" r="2.5" fill="#f4fff6"/><circle cx="1805.6" cy="179.1" r="15" fill="#008000"/><circle cx="1801.1" cy="174.6" r="7.5" fill="#33b874"/><circle cx="1801.1" cy="174.6" r="5" fill="#a6dcb9"/><circle cx="1801.1" cy="174.6" r="2.5" fill="#f4fff6"/><circle cx="2011.9" cy="209.7" r="15" fill="#008000"/><circle cx="2007.4" cy="205.2" r="7.5" fill="#33b874"/><circle cx="2007.4" cy="205.2" r="5" fill="#a6dcb9"/><circle cx="2007.4" cy="205.2" r="2.5" fill="#f4fff6"/><circle cx="2162.2" cy="239.9" r="15" fill="#008000"/><circle cx="2157.7" cy="235.4" r="7.5" fill="#33b874"/><circle cx="2157.7" cy="235.4" r="5" fill="#a6dcb9"/><circle cx="2157.7" cy="235.4" r="2.5" fill="#f4fff6"/><circle cx="2356.0" cy="259.5" r="15" fill="#008000"/><circle cx="2351.5" cy="255.0" r="7.5" fill="#33b874"/><circle cx="2351.5" cy="255.0" r="5" fill="#a6dcb9"/><circle cx="2351.5" cy="255.0" r="2.5" fill="#f4fff6"/></g><text x="1324.2" y="46.2" font-size="43.5" font-weight="normal" fill="#000" textLength="57.9" lengthAdjust="spacingAndGlyphs">1.0</text><text x="1324.4" y="124.5" font-size="43.5" font-weight="normal" fill="#000" textLength="57.9" lengthAdjust="spacingAndGlyphs">0.8</text><text x="1324.4" y="202.7" font-size="43.5" font-weight="normal" fill="#000" textLength="57.9" lengthAdjust="spacingAndGlyphs">0.6</text><text x="1324.0" y="281.0" font-size="43.5" font-weight="normal" fill="#000" textLength="57.9" lengthAdjust="spacingAndGlyphs">0.4</text><text x="1324.8" y="359.2" font-size="43.5" font-weight="normal" fill="#000" textLength="57.9" lengthAdjust="spacingAndGlyphs">0.2</text><text x="1324.2" y="437.5" font-size="43.5" font-weight="normal" fill="#000" textLength="57.9" lengthAdjust="spacingAndGlyphs">0.0</text>
<path d="M1397.0 461.5H1413.0M1397.0 539.8H1413.0M1397.0 618.1H1413.0M1397.0 696.4H1413.0M1397.0 774.7H1413.0M1397.0 500.9H1406.0M1397.0 579.2H1406.0M1397.0 657.5H1406.0M1397.0 735.8H1406.0M1397.0 814.1H1406.0M1405.4 854.4V838.4M1570.2 854.4V838.4M1735.0 854.4V838.4M1899.8 854.4V838.4M2064.6 854.4V838.4M2229.4 854.4V838.4M1487.8 854.4V845.4M1652.6 854.4V845.4M1817.4 854.4V845.4M1982.2 854.4V845.4M2147.0 854.4V845.4M2311.8 854.4V845.4" stroke="#000" stroke-width="4" fill="none"/><rect x="1397.0" y="455.0" width="997.0" height="399.4" fill="none" stroke="#000" stroke-width="4"/><g clip-path="url(#cR2)"><circle cx="1400.0" cy="470.0" r="15" fill="#ff00ff"/><circle cx="1395.5" cy="465.5" r="7.5" fill="#ff66ff"/><circle cx="1395.5" cy="465.5" r="5" fill="#ffb3ff"/><circle cx="1395.5" cy="465.5" r="2.5" fill="#fff4ff"/><circle cx="1402.0" cy="482.0" r="15" fill="#ff00ff"/><circle cx="1397.5" cy="477.5" r="7.5" fill="#ff66ff"/><circle cx="1397.5" cy="477.5" r="5" fill="#ffb3ff"/><circle cx="1397.5" cy="477.5" r="2.5" fill="#fff4ff"/><circle cx="1408.4" cy="466.2" r="15" fill="#ff00ff"/><circle cx="1403.9" cy="461.7" r="7.5" fill="#ff66ff"/><circle cx="1403.9" cy="461.7" r="5" fill="#ffb3ff"/><circle cx="1403.9" cy="461.7" r="2.5" fill="#fff4ff"/><circle cx="1418.2" cy="476.0" r="15" fill="#ff00ff"/><circle cx="1413.7" cy="471.5" r="7.5" fill="#ff66ff"/><circle cx="1413.7" cy="471.5" r="5" fill="#ffb3ff"/><circle cx="1413.7" cy="471.5" r="2.5" fill="#fff4ff"/><circle cx="1422.0" cy="491.0" r="15" fill="#ff00ff"/><circle cx="1417.5" cy="486.5" r="7.5" fill="#ff66ff"/><circle cx="1417.5" cy="486.5" r="5" fill="#ffb3ff"/><circle cx="1417.5" cy="486.5" r="2.5" fill="#fff4ff"/><circle cx="1425.2" cy="480.2" r="15" fill="#ff00ff"/><circle cx="1420.7" cy="475.7" r="7.5" fill="#ff66ff"/><circle cx="1420.7" cy="475.7" r="5" fill="#ffb3ff"/><circle cx="1420.7" cy="475.7" r="2.5" fill="#fff4ff"/><circle cx="1430.8" cy="484.4" r="15" fill="#ff00ff"/><circle cx="1426.3" cy="479.9" r="7.5" fill="#ff66ff"/><circle cx="1426.3" cy="479.9" r="5" fill="#ffb3ff"/><circle cx="1426.3" cy="479.9" r="2.5" fill="#fff4ff"/><circle cx="1442.0" cy="485.2" r="15" fill="#ff00ff"/><circle cx="1437.5" cy="480.7" r="7.5" fill="#ff66ff"/><circle cx="1437.5" cy="480.7" r="5" fill="#ffb3ff"/><circle cx="1437.5" cy="480.7" r="2.5" fill="#fff4ff"/><circle cx="1451.8" cy="503.1" r="15" fill="#ff00ff"/><circle cx="1447.3" cy="498.6" r="7.5" fill="#ff66ff"/><circle cx="1447.3" cy="498.6" r="5" fill="#ffb3ff"/><circle cx="1447.3" cy="498.6" r="2.5" fill="#fff4ff"/><circle cx="1464.0" cy="556.0" r="15" fill="#ff00ff"/><circle cx="1459.5" cy="551.5" r="7.5" fill="#ff66ff"/><circle cx="1459.5" cy="551.5" r="5" fill="#ffb3ff"/><circle cx="1459.5" cy="551.5" r="2.5" fill="#fff4ff"/><circle cx="1464.3" cy="546.7" r="15" fill="#ff00ff"/><circle cx="1459.8" cy="542.2" r="7.5" fill="#ff66ff"/><circle cx="1459.8" cy="542.2" r="5" fill="#ffb3ff"/><circle cx="1459.8" cy="542.2" r="2.5" fill="#fff4ff"/><circle cx="1468.5" cy="494.2" r="15" fill="#ff00ff"/><circle cx="1464.0" cy="489.7" r="7.5" fill="#ff66ff"/><circle cx="1464.0" cy="489.7" r="5" fill="#ffb3ff"/><circle cx="1464.0" cy="489.7" r="2.5" fill="#fff4ff"/><circle cx="1472.7" cy="505.4" r="15" fill="#ff00ff"/><circle cx="1468.2" cy="500.9" r="7.5" fill="#ff66ff"/><circle cx="1468.2" cy="500.9" r="5" fill="#ffb3ff"/><circle cx="1468.2" cy="500.9" r="2.5" fill="#fff4ff"/><circle cx="1476.4" cy="511.5" r="15" fill="#ff00ff"/><circle cx="1471.9" cy="507.0" r="7.5" fill="#ff66ff"/><circle cx="1471.9" cy="507.0" r="5" fill="#ffb3ff"/><circle cx="1471.9" cy="507.0" r="2.5" fill="#fff4ff"/><circle cx="1488.1" cy="517.1" r="15" fill="#ff00ff"/><circle cx="1483.6" cy="512.6" r="7.5" fill="#ff66ff"/><circle cx="1483.6" cy="512.6" r="5" fill="#ffb3ff"/><circle cx="1483.6" cy="512.6" r="2.5" fill="#fff4ff"/><circle cx="1499.0" cy="537.2" r="15" fill="#ff00ff"/><circle cx="1494.5" cy="532.7" r="7.5" fill="#ff66ff"/><circle cx="1494.5" cy="532.7" r="5" fill="#ffb3ff"/><circle cx="1494.5" cy="532.7" r="2.5" fill="#fff4ff"/><circle cx="1505.4" cy="528.3" r="15" fill="#ff00ff"/><circle cx="1500.9" cy="523.8" r="7.5" fill="#ff66ff"/><circle cx="1500.9" cy="523.8" r="5" fill="#ffb3ff"/><circle cx="1500.9" cy="523.8" r="2.5" fill="#fff4ff"/><circle cx="1533.1" cy="530.8" r="15" fill="#ff00ff"/><circle cx="1528.6" cy="526.3" r="7.5" fill="#ff66ff"/><circle cx="1528.6" cy="526.3" r="5" fill="#ffb3ff"/><circle cx="1528.6" cy="526.3" r="2.5" fill="#fff4ff"/><circle cx="1561.9" cy="547.9" r="15" fill="#ff00ff"/><circle cx="1557.4" cy="543.4" r="7.5" fill="#ff66ff"/><circle cx="1557.4" cy="543.4" r="5" fill="#ffb3ff"/><circle cx="1557.4" cy="543.4" r="2.5" fill="#fff4ff"/><circle cx="1581.4" cy="554.6" r="15" fill="#ff00ff"/><circle cx="1576.9" cy="550.1" r="7.5" fill="#ff66ff"/><circle cx="1576.9" cy="550.1" r="5" fill="#ffb3ff"/><circle cx="1576.9" cy="550.1" r="2.5" fill="#fff4ff"/><circle cx="1629.5" cy="587.5" r="15" fill="#ff00ff"/><circle cx="1625.0" cy="583.0" r="7.5" fill="#ff66ff"/><circle cx="1625.0" cy="583.0" r="5" fill="#ffb3ff"/><circle cx="1625.0" cy="583.0" r="2.5" fill="#fff4ff"/><circle cx="1671.7" cy="580.5" r="15" fill="#ff00ff"/><circle cx="1667.2" cy="576.0" r="7.5" fill="#ff66ff"/><circle cx="1667.2" cy="576.0" r="5" fill="#ffb3ff"/><circle cx="1667.2" cy="576.0" r="2.5" fill="#fff4ff"/><circle cx="1777.1" cy="626.7" r="15" fill="#ff00ff"/><circle cx="1772.6" cy="622.2" r="7.5" fill="#ff66ff"/><circle cx="1772.6" cy="622.2" r="5" fill="#ffb3ff"/><circle cx="1772.6" cy="622.2" r="2.5" fill="#fff4ff"/><circle cx="1844.2" cy="642.0" r="15" fill="#ff00ff"/><circle cx="1839.7" cy="637.5" r="7.5" fill="#ff66ff"/><circle cx="1839.7" cy="637.5" r="5" fill="#ffb3ff"/><circle cx="1839.7" cy="637.5" r="2.5" fill="#fff4ff"/><circle cx="2010.7" cy="643.6" r="15" fill="#ff00ff"/><circle cx="2006.2" cy="639.1" r="7.5" fill="#ff66ff"/><circle cx="2006.2" cy="639.1" r="5" fill="#ffb3ff"/><circle cx="2006.2" cy="639.1" r="2.5" fill="#fff4ff"/><circle cx="2173.4" cy="679.8" r="15" fill="#ff00ff"/><circle cx="2168.9" cy="675.3" r="7.5" fill="#ff66ff"/><circle cx="2168.9" cy="675.3" r="5" fill="#ffb3ff"/><circle cx="2168.9" cy="675.3" r="2.5" fill="#fff4ff"/></g><text x="1324.2" y="473.7" font-size="43.5" font-weight="normal" fill="#000" textLength="57.9" lengthAdjust="spacingAndGlyphs">1.0</text><text x="1324.4" y="552.0" font-size="43.5" font-weight="normal" fill="#000" textLength="57.9" lengthAdjust="spacingAndGlyphs">0.8</text><text x="1324.4" y="630.3" font-size="43.5" font-weight="normal" fill="#000" textLength="57.9" lengthAdjust="spacingAndGlyphs">0.6</text><text x="1324.0" y="708.6" font-size="43.5" font-weight="normal" fill="#000" textLength="57.9" lengthAdjust="spacingAndGlyphs">0.4</text><text x="1324.8" y="786.9" font-size="43.5" font-weight="normal" fill="#000" textLength="57.9" lengthAdjust="spacingAndGlyphs">0.2</text><text x="1324.2" y="865.2" font-size="43.5" font-weight="normal" fill="#000" textLength="57.9" lengthAdjust="spacingAndGlyphs">0.0</text>
<path d="M1396.0 889.7H1412.0M1396.0 968.0H1412.0M1396.0 1046.3H1412.0M1396.0 1124.6H1412.0M1396.0 1202.9H1412.0M1396.0 928.9H1405.0M1396.0 1007.2H1405.0M1396.0 1085.5H1405.0M1396.0 1163.8H1405.0M1396.0 1242.1H1405.0M1404.5 1282.6V1266.6M1569.3 1282.6V1266.6M1734.2 1282.6V1266.6M1899.0 1282.6V1266.6M2063.9 1282.6V1266.6M2228.7 1282.6V1266.6M1486.9 1282.6V1273.6M1651.8 1282.6V1273.6M1816.6 1282.6V1273.6M1981.4 1282.6V1273.6M2146.3 1282.6V1273.6M2311.1 1282.6V1273.6" stroke="#000" stroke-width="4" fill="none"/><rect x="1396.0" y="883.0" width="997.0" height="399.6" fill="none" stroke="#000" stroke-width="4"/><g clip-path="url(#cR3)"><circle cx="1400.0" cy="895.0" r="15" fill="#8f00ff"/><circle cx="1395.5" cy="890.5" r="7.5" fill="#c36bff"/><circle cx="1395.5" cy="890.5" r="5" fill="#e2b8ff"/><circle cx="1395.5" cy="890.5" r="2.5" fill="#fbf4ff"/><circle cx="1405.7" cy="890.0" r="15" fill="#8f00ff"/><circle cx="1401.2" cy="885.5" r="7.5" fill="#c36bff"/><circle cx="1401.2" cy="885.5" r="5" fill="#e2b8ff"/><circle cx="1401.2" cy="885.5" r="2.5" fill="#fbf4ff"/><circle cx="1414.0" cy="895.6" r="15" fill="#8f00ff"/><circle cx="1409.5" cy="891.1" r="7.5" fill="#c36bff"/><circle cx="1409.5" cy="891.1" r="5" fill="#e2b8ff"/><circle cx="1409.5" cy="891.1" r="2.5" fill="#fbf4ff"/><circle cx="1422.4" cy="902.6" r="15" fill="#8f00ff"/><circle cx="1417.9" cy="898.1" r="7.5" fill="#c36bff"/><circle cx="1417.9" cy="898.1" r="5" fill="#e2b8ff"/><circle cx="1417.9" cy="898.1" r="2.5" fill="#fbf4ff"/><circle cx="1427.7" cy="915.0" r="15" fill="#8f00ff"/><circle cx="1423.2" cy="910.5" r="7.5" fill="#c36bff"/><circle cx="1423.2" cy="910.5" r="5" fill="#e2b8ff"/><circle cx="1423.2" cy="910.5" r="2.5" fill="#fbf4ff"/><circle cx="1430.8" cy="912.4" r="15" fill="#8f00ff"/><circle cx="1426.3" cy="907.9" r="7.5" fill="#c36bff"/><circle cx="1426.3" cy="907.9" r="5" fill="#e2b8ff"/><circle cx="1426.3" cy="907.9" r="2.5" fill="#fbf4ff"/><circle cx="1442.0" cy="910.5" r="15" fill="#8f00ff"/><circle cx="1437.5" cy="906.0" r="7.5" fill="#c36bff"/><circle cx="1437.5" cy="906.0" r="5" fill="#e2b8ff"/><circle cx="1437.5" cy="906.0" r="2.5" fill="#fbf4ff"/><circle cx="1451.8" cy="925.0" r="15" fill="#8f00ff"/><circle cx="1447.3" cy="920.5" r="7.5" fill="#c36bff"/><circle cx="1447.3" cy="920.5" r="5" fill="#e2b8ff"/><circle cx="1447.3" cy="920.5" r="2.5" fill="#fbf4ff"/><circle cx="1461.5" cy="925.0" r="15" fill="#8f00ff"/><circle cx="1457.0" cy="920.5" r="7.5" fill="#c36bff"/><circle cx="1457.0" cy="920.5" r="5" fill="#e2b8ff"/><circle cx="1457.0" cy="920.5" r="2.5" fill="#fbf4ff"/><circle cx="1462.7" cy="932.0" r="15" fill="#8f00ff"/><circle cx="1458.2" cy="927.5" r="7.5" fill="#c36bff"/><circle cx="1458.2" cy="927.5" r="5" fill="#e2b8ff"/><circle cx="1458.2" cy="927.5" r="2.5" fill="#fbf4ff"/><circle cx="1465.7" cy="911.0" r="15" fill="#8f00ff"/><circle cx="1461.2" cy="906.5" r="7.5" fill="#c36bff"/><circle cx="1461.2" cy="906.5" r="5" fill="#e2b8ff"/><circle cx="1461.2" cy="906.5" r="2.5" fill="#fbf4ff"/><circle cx="1475.5" cy="926.4" r="15" fill="#8f00ff"/><circle cx="1471.0" cy="921.9" r="7.5" fill="#c36bff"/><circle cx="1471.0" cy="921.9" r="5" fill="#e2b8ff"/><circle cx="1471.0" cy="921.9" r="2.5" fill="#fbf4ff"/><circle cx="1483.9" cy="940.4" r="15" fill="#8f00ff"/><circle cx="1479.4" cy="935.9" r="7.5" fill="#c36bff"/><circle cx="1479.4" cy="935.9" r="5" fill="#e2b8ff"/><circle cx="1479.4" cy="935.9" r="2.5" fill="#fbf4ff"/><circle cx="1490.9" cy="949.6" r="15" fill="#8f00ff"/><circle cx="1486.4" cy="945.1" r="7.5" fill="#c36bff"/><circle cx="1486.4" cy="945.1" r="5" fill="#e2b8ff"/><circle cx="1486.4" cy="945.1" r="2.5" fill="#fbf4ff"/><circle cx="1498.4" cy="934.2" r="15" fill="#8f00ff"/><circle cx="1493.9" cy="929.7" r="7.5" fill="#c36bff"/><circle cx="1493.9" cy="929.7" r="5" fill="#e2b8ff"/><circle cx="1493.9" cy="929.7" r="2.5" fill="#fbf4ff"/><circle cx="1524.2" cy="958.2" r="15" fill="#8f00ff"/><circle cx="1519.7" cy="953.7" r="7.5" fill="#c36bff"/><circle cx="1519.7" cy="953.7" r="5" fill="#e2b8ff"/><circle cx="1519.7" cy="953.7" r="2.5" fill="#fbf4ff"/><circle cx="1545.7" cy="963.0" r="15" fill="#8f00ff"/><circle cx="1541.2" cy="958.5" r="7.5" fill="#c36bff"/><circle cx="1541.2" cy="958.5" r="5" fill="#e2b8ff"/><circle cx="1541.2" cy="958.5" r="2.5" fill="#fbf4ff"/><circle cx="1573.9" cy="966.6" r="15" fill="#8f00ff"/><circle cx="1569.4" cy="962.1" r="7.5" fill="#c36bff"/><circle cx="1569.4" cy="962.1" r="5" fill="#e2b8ff"/><circle cx="1569.4" cy="962.1" r="2.5" fill="#fbf4ff"/><circle cx="1609.4" cy="989.0" r="15" fill="#8f00ff"/><circle cx="1604.9" cy="984.5" r="7.5" fill="#c36bff"/><circle cx="1604.9" cy="984.5" r="5" fill="#e2b8ff"/><circle cx="1604.9" cy="984.5" r="2.5" fill="#fbf4ff"/><circle cx="1656.9" cy="991.8" r="15" fill="#8f00ff"/><circle cx="1652.4" cy="987.3" r="7.5" fill="#c36bff"/><circle cx="1652.4" cy="987.3" r="5" fill="#e2b8ff"/><circle cx="1652.4" cy="987.3" r="2.5" fill="#fbf4ff"/><circle cx="1735.2" cy="1029.5" r="15" fill="#8f00ff"/><circle cx="1730.7" cy="1025.0" r="7.5" fill="#c36bff"/><circle cx="1730.7" cy="1025.0" r="5" fill="#e2b8ff"/><circle cx="1730.7" cy="1025.0" r="2.5" fill="#fbf4ff"/><circle cx="1833.0" cy="1031.7" r="15" fill="#8f00ff"/><circle cx="1828.5" cy="1027.2" r="7.5" fill="#c36bff"/><circle cx="1828.5" cy="1027.2" r="5" fill="#e2b8ff"/><circle cx="1828.5" cy="1027.2" r="2.5" fill="#fbf4ff"/><circle cx="2035.4" cy="1057.7" r="15" fill="#8f00ff"/><circle cx="2030.9" cy="1053.2" r="7.5" fill="#c36bff"/><circle cx="2030.9" cy="1053.2" r="5" fill="#e2b8ff"/><circle cx="2030.9" cy="1053.2" r="2.5" fill="#fbf4ff"/><circle cx="2156.8" cy="1088.8" r="15" fill="#8f00ff"/><circle cx="2152.3" cy="1084.3" r="7.5" fill="#c36bff"/><circle cx="2152.3" cy="1084.3" r="5" fill="#e2b8ff"/><circle cx="2152.3" cy="1084.3" r="2.5" fill="#fbf4ff"/><circle cx="2336.7" cy="1092.7" r="15" fill="#8f00ff"/><circle cx="2332.2" cy="1088.2" r="7.5" fill="#c36bff"/><circle cx="2332.2" cy="1088.2" r="5" fill="#e2b8ff"/><circle cx="2332.2" cy="1088.2" r="2.5" fill="#fbf4ff"/></g><text x="1324.2" y="901.9" font-size="43.5" font-weight="normal" fill="#000" textLength="57.9" lengthAdjust="spacingAndGlyphs">1.0</text><text x="1324.4" y="980.2" font-size="43.5" font-weight="normal" fill="#000" textLength="57.9" lengthAdjust="spacingAndGlyphs">0.8</text><text x="1324.4" y="1058.5" font-size="43.5" font-weight="normal" fill="#000" textLength="57.9" lengthAdjust="spacingAndGlyphs">0.6</text><text x="1324.0" y="1136.8" font-size="43.5" font-weight="normal" fill="#000" textLength="57.9" lengthAdjust="spacingAndGlyphs">0.4</text><text x="1324.8" y="1215.1" font-size="43.5" font-weight="normal" fill="#000" textLength="57.9" lengthAdjust="spacingAndGlyphs">0.2</text><text x="1324.2" y="1293.4" font-size="43.5" font-weight="normal" fill="#000" textLength="57.9" lengthAdjust="spacingAndGlyphs">0.0</text><text x="1392.8" y="1330.7" font-size="43.5" font-weight="normal" fill="#000" textLength="23.2" lengthAdjust="spacingAndGlyphs">0</text><text x="1545.9" y="1330.7" font-size="43.5" font-weight="normal" fill="#000" textLength="46.3" lengthAdjust="spacingAndGlyphs">20</text><text x="1711.4" y="1330.7" font-size="43.5" font-weight="normal" fill="#000" textLength="46.3" lengthAdjust="spacingAndGlyphs">40</text><text x="1875.6" y="1330.7" font-size="43.5" font-weight="normal" fill="#000" textLength="46.3" lengthAdjust="spacingAndGlyphs">60</text><text x="2040.5" y="1330.7" font-size="43.5" font-weight="normal" fill="#000" textLength="46.3" lengthAdjust="spacingAndGlyphs">80</text><text x="2193.2" y="1330.7" font-size="43.5" font-weight="normal" fill="#000" textLength="69.5" lengthAdjust="spacingAndGlyphs">100</text><text x="2358.1" y="1330.7" font-size="43.5" font-weight="normal" fill="#000" textLength="69.5" lengthAdjust="spacingAndGlyphs">120</text>
<path d="M231.0 1498.1H247.0M231.0 1577.9H247.0M231.0 1657.8H247.0M231.0 1737.6H247.0M231.0 1817.4H247.0M231.0 1458.2H240.0M231.0 1538.0H240.0M231.0 1617.8H240.0M231.0 1697.7H240.0M231.0 1777.5H240.0M239.5 1845.0V1829.0M404.4 1845.0V1829.0M569.2 1845.0V1829.0M734.0 1845.0V1829.0M898.9 1845.0V1829.0M1063.8 1845.0V1829.0M321.9 1845.0V1836.0M486.8 1845.0V1836.0M651.6 1845.0V1836.0M816.5 1845.0V1836.0M981.3 1845.0V1836.0M1146.2 1845.0V1836.0" stroke="#000" stroke-width="4" fill="none"/><rect x="231.0" y="1444.0" width="997.5" height="401.0" fill="none" stroke="#000" stroke-width="4"/><g clip-path="url(#cLB1)"><circle cx="238.0" cy="1529.6" r="15" fill="#000000"/><circle cx="233.5" cy="1525.1" r="7.5" fill="#9a9a9a"/><circle cx="233.5" cy="1525.1" r="5" fill="#cbcbcb"/><circle cx="233.5" cy="1525.1" r="2.5" fill="#ffffff"/><circle cx="250.0" cy="1528.5" r="15" fill="#000000"/><circle cx="245.5" cy="1524.0" r="7.5" fill="#9a9a9a"/><circle cx="245.5" cy="1524.0" r="5" fill="#cbcbcb"/><circle cx="245.5" cy="1524.0" r="2.5" fill="#ffffff"/><circle cx="262.0" cy="1527.0" r="15" fill="#000000"/><circle cx="257.5" cy="1522.5" r="7.5" fill="#9a9a9a"/><circle cx="257.5" cy="1522.5" r="5" fill="#cbcbcb"/><circle cx="257.5" cy="1522.5" r="2.5" fill="#ffffff"/><circle cx="274.0" cy="1526.0" r="15" fill="#000000"/><circle cx="269.5" cy="1521.5" r="7.5" fill="#9a9a9a"/><circle cx="269.5" cy="1521.5" r="5" fill="#cbcbcb"/><circle cx="269.5" cy="1521.5" r="2.5" fill="#ffffff"/><circle cx="282.0" cy="1524.0" r="15" fill="#000000"/><circle cx="277.5" cy="1519.5" r="7.5" fill="#9a9a9a"/><circle cx="277.5" cy="1519.5" r="5" fill="#cbcbcb"/><circle cx="277.5" cy="1519.5" r="2.5" fill="#ffffff"/><circle cx="236.5" cy="1523.0" r="15" fill="#000000"/><circle cx="232.0" cy="1518.5" r="7.5" fill="#9a9a9a"/><circle cx="232.0" cy="1518.5" r="5" fill="#cbcbcb"/><circle cx="232.0" cy="1518.5" r="2.5" fill="#ffffff"/><circle cx="239.9" cy="1523.5" r="15" fill="#000000"/><circle cx="235.4" cy="1519.0" r="7.5" fill="#9a9a9a"/><circle cx="235.4" cy="1519.0" r="5" fill="#cbcbcb"/><circle cx="235.4" cy="1519.0" r="2.5" fill="#ffffff"/><circle cx="243.2" cy="1524.0" r="15" fill="#000000"/><circle cx="238.7" cy="1519.5" r="7.5" fill="#9a9a9a"/><circle cx="238.7" cy="1519.5" r="5" fill="#cbcbcb"/><circle cx="238.7" cy="1519.5" r="2.5" fill="#ffffff"/><circle cx="249.9" cy="1523.5" r="15" fill="#000000"/><circle cx="245.4" cy="1519.0" r="7.5" fill="#9a9a9a"/><circle cx="245.4" cy="1519.0" r="5" fill="#cbcbcb"/><circle cx="245.4" cy="1519.0" r="2.5" fill="#ffffff"/><circle cx="258.0" cy="1522.5" r="15" fill="#000000"/><circle cx="253.5" cy="1518.0" r="7.5" fill="#9a9a9a"/><circle cx="253.5" cy="1518.0" r="5" fill="#cbcbcb"/><circle cx="253.5" cy="1518.0" r="2.5" fill="#ffffff"/><circle cx="264.7" cy="1522.0" r="15" fill="#000000"/><circle cx="260.2" cy="1517.5" r="7.5" fill="#9a9a9a"/><circle cx="260.2" cy="1517.5" r="5" fill="#cbcbcb"/><circle cx="260.2" cy="1517.5" r="2.5" fill="#ffffff"/><circle cx="274.1" cy="1522.0" r="15" fill="#000000"/><circle cx="269.6" cy="1517.5" r="7.5" fill="#9a9a9a"/><circle cx="269.6" cy="1517.5" r="5" fill="#cbcbcb"/><circle cx="269.6" cy="1517.5" r="2.5" fill="#ffffff"/><circle cx="285.5" cy="1521.0" r="15" fill="#000000"/><circle cx="281.0" cy="1516.5" r="7.5" fill="#9a9a9a"/><circle cx="281.0" cy="1516.5" r="5" fill="#cbcbcb"/><circle cx="281.0" cy="1516.5" r="2.5" fill="#ffffff"/><circle cx="298.9" cy="1518.0" r="15" fill="#000000"/><circle cx="294.4" cy="1513.5" r="7.5" fill="#9a9a9a"/><circle cx="294.4" cy="1513.5" r="5" fill="#cbcbcb"/><circle cx="294.4" cy="1513.5" r="2.5" fill="#ffffff"/><circle cx="310.3" cy="1517.5" r="15" fill="#000000"/><circle cx="305.8" cy="1513.0" r="7.5" fill="#9a9a9a"/><circle cx="305.8" cy="1513.0" r="5" fill="#cbcbcb"/><circle cx="305.8" cy="1513.0" r="2.5" fill="#ffffff"/><circle cx="322.4" cy="1516.5" r="15" fill="#000000"/><circle cx="317.9" cy="1512.0" r="7.5" fill="#9a9a9a"/><circle cx="317.9" cy="1512.0" r="5" fill="#cbcbcb"/><circle cx="317.9" cy="1512.0" r="2.5" fill="#ffffff"/><circle cx="330.4" cy="1515.5" r="15" fill="#000000"/><circle cx="325.9" cy="1511.0" r="7.5" fill="#9a9a9a"/><circle cx="325.9" cy="1511.0" r="5" fill="#cbcbcb"/><circle cx="325.9" cy="1511.0" r="2.5" fill="#ffffff"/><circle cx="340.5" cy="1515.0" r="15" fill="#000000"/><circle cx="336.0" cy="1510.5" r="7.5" fill="#9a9a9a"/><circle cx="336.0" cy="1510.5" r="5" fill="#cbcbcb"/><circle cx="336.0" cy="1510.5" r="2.5" fill="#ffffff"/><circle cx="361.7" cy="1511.7" r="15" fill="#000000"/><circle cx="357.2" cy="1507.2" r="7.5" fill="#9a9a9a"/><circle cx="357.2" cy="1507.2" r="5" fill="#cbcbcb"/><circle cx="357.2" cy="1507.2" r="2.5" fill="#ffffff"/><circle cx="393.6" cy="1508.4" r="15" fill="#000000"/><circle cx="389.1" cy="1503.9" r="7.5" fill="#9a9a9a"/><circle cx="389.1" cy="1503.9" r="5" fill="#cbcbcb"/><circle cx="389.1" cy="1503.9" r="2.5" fill="#ffffff"/><circle cx="425.5" cy="1506.7" r="15" fill="#000000"/><circle cx="421.0" cy="1502.2" r="7.5" fill="#9a9a9a"/><circle cx="421.0" cy="1502.2" r="5" fill="#cbcbcb"/><circle cx="421.0" cy="1502.2" r="2.5" fill="#ffffff"/><circle cx="450.3" cy="1505.5" r="15" fill="#000000"/><circle cx="445.8" cy="1501.0" r="7.5" fill="#9a9a9a"/><circle cx="445.8" cy="1501.0" r="5" fill="#cbcbcb"/><circle cx="445.8" cy="1501.0" r="2.5" fill="#ffffff"/><circle cx="522.5" cy="1498.8" r="15" fill="#000000"/><circle cx="518.0" cy="1494.3" r="7.5" fill="#9a9a9a"/><circle cx="518.0" cy="1494.3" r="5" fill="#cbcbcb"/><circle cx="518.0" cy="1494.3" r="2.5" fill="#ffffff"/><circle cx="628.1" cy="1494.4" r="15" fill="#000000"/><circle cx="623.6" cy="1489.9" r="7.5" fill="#9a9a9a"/><circle cx="623.6" cy="1489.9" r="5" fill="#cbcbcb"/><circle cx="623.6" cy="1489.9" r="2.5" fill="#ffffff"/><circle cx="683.4" cy="1488.7" r="15" fill="#000000"/><circle cx="678.9" cy="1484.2" r="7.5" fill="#9a9a9a"/><circle cx="678.9" cy="1484.2" r="5" fill="#cbcbcb"/><circle cx="678.9" cy="1484.2" r="2.5" fill="#ffffff"/><circle cx="937.0" cy="1482.8" r="15" fill="#000000"/><circle cx="932.5" cy="1478.3" r="7.5" fill="#9a9a9a"/><circle cx="932.5" cy="1478.3" r="5" fill="#cbcbcb"/><circle cx="932.5" cy="1478.3" r="2.5" fill="#ffffff"/><circle cx="1035.0" cy="1479.8" r="15" fill="#000000"/><circle cx="1030.5" cy="1475.3" r="7.5" fill="#9a9a9a"/><circle cx="1030.5" cy="1475.3" r="5" fill="#cbcbcb"/><circle cx="1030.5" cy="1475.3" r="2.5" fill="#ffffff"/><g stroke="#ff0000" stroke-width="10" stroke-linecap="round"><line x1="238.9" y1="1529.6" x2="276.1" y2="1521.6"/><line x1="289.2" y1="1521.5" x2="318.0" y2="1517.2"/><line x1="366.5" y1="1512.7" x2="396.7" y2="1509.3"/><line x1="443.6" y1="1505.2" x2="473.9" y2="1503.4"/><line x1="522.4" y1="1500.1" x2="552.7" y2="1498.4"/><line x1="601.2" y1="1496.2" x2="631.5" y2="1494.6"/><line x1="678.4" y1="1491.8" x2="708.6" y2="1490.6"/><line x1="756.3" y1="1488.6" x2="787.1" y2="1487.0"/><line x1="834.8" y1="1486.5" x2="865.5" y2="1485.4"/><line x1="913.3" y1="1484.0" x2="945.5" y2="1482.2"/><line x1="990.2" y1="1481.7" x2="1022.5" y2="1480.0"/><line x1="1068.7" y1="1480.6" x2="1099.5" y2="1479.9"/><line x1="1147.2" y1="1478.2" x2="1177.9" y2="1477.8"/><line x1="1224.2" y1="1476.7" x2="1231.0" y2="1476.7"/></g></g><text x="132.9" y="1510.3" font-size="43.5" font-weight="normal" fill="#000" textLength="81.0" lengthAdjust="spacingAndGlyphs">0.54</text><text x="133.5" y="1590.1" font-size="43.5" font-weight="normal" fill="#000" textLength="81.0" lengthAdjust="spacingAndGlyphs">0.51</text><text x="133.3" y="1670.0" font-size="43.5" font-weight="normal" fill="#000" textLength="81.0" lengthAdjust="spacingAndGlyphs">0.48</text><text x="133.3" y="1749.8" font-size="43.5" font-weight="normal" fill="#000" textLength="81.0" lengthAdjust="spacingAndGlyphs">0.45</text><text x="133.7" y="1829.6" font-size="43.5" font-weight="normal" fill="#000" textLength="81.0" lengthAdjust="spacingAndGlyphs">0.42</text>
<path d="M231.0 1911.1H247.0M231.0 1990.8H247.0M231.0 2070.4H247.0M231.0 2150.0H247.0M231.0 2229.7H247.0M231.0 1871.3H240.0M231.0 1950.9H240.0M231.0 2030.6H240.0M231.0 2110.2H240.0M231.0 2189.9H240.0M239.5 2257.0V2241.0M404.4 2257.0V2241.0M569.2 2257.0V2241.0M734.0 2257.0V2241.0M898.9 2257.0V2241.0M1063.8 2257.0V2241.0M321.9 2257.0V2248.0M486.8 2257.0V2248.0M651.6 2257.0V2248.0M816.5 2257.0V2248.0M981.3 2257.0V2248.0M1146.2 2257.0V2248.0" stroke="#000" stroke-width="4" fill="none"/><rect x="231.0" y="1857.5" width="998.0" height="399.5" fill="none" stroke="#000" stroke-width="4"/><g clip-path="url(#cLB2)"><circle cx="238.0" cy="2202.7" r="15" fill="#000000"/><circle cx="233.5" cy="2198.2" r="7.5" fill="#9a9a9a"/><circle cx="233.5" cy="2198.2" r="5" fill="#cbcbcb"/><circle cx="233.5" cy="2198.2" r="2.5" fill="#ffffff"/><circle cx="250.0" cy="2201.0" r="15" fill="#000000"/><circle cx="245.5" cy="2196.5" r="7.5" fill="#9a9a9a"/><circle cx="245.5" cy="2196.5" r="5" fill="#cbcbcb"/><circle cx="245.5" cy="2196.5" r="2.5" fill="#ffffff"/><circle cx="262.0" cy="2200.0" r="15" fill="#000000"/><circle cx="257.5" cy="2195.5" r="7.5" fill="#9a9a9a"/><circle cx="257.5" cy="2195.5" r="5" fill="#cbcbcb"/><circle cx="257.5" cy="2195.5" r="2.5" fill="#ffffff"/><circle cx="275.0" cy="2198.7" r="15" fill="#000000"/><circle cx="270.5" cy="2194.2" r="7.5" fill="#9a9a9a"/><circle cx="270.5" cy="2194.2" r="5" fill="#cbcbcb"/><circle cx="270.5" cy="2194.2" r="2.5" fill="#ffffff"/><circle cx="290.0" cy="2196.5" r="15" fill="#000000"/><circle cx="285.5" cy="2192.0" r="7.5" fill="#9a9a9a"/><circle cx="285.5" cy="2192.0" r="5" fill="#cbcbcb"/><circle cx="285.5" cy="2192.0" r="2.5" fill="#ffffff"/><circle cx="305.0" cy="2195.3" r="15" fill="#000000"/><circle cx="300.5" cy="2190.8" r="7.5" fill="#9a9a9a"/><circle cx="300.5" cy="2190.8" r="5" fill="#cbcbcb"/><circle cx="300.5" cy="2190.8" r="2.5" fill="#ffffff"/><circle cx="325.0" cy="2194.6" r="15" fill="#000000"/><circle cx="320.5" cy="2190.1" r="7.5" fill="#9a9a9a"/><circle cx="320.5" cy="2190.1" r="5" fill="#cbcbcb"/><circle cx="320.5" cy="2190.1" r="2.5" fill="#ffffff"/><circle cx="239.2" cy="2198.5" r="15" fill="#000000"/><circle cx="234.7" cy="2194.0" r="7.5" fill="#9a9a9a"/><circle cx="234.7" cy="2194.0" r="5" fill="#cbcbcb"/><circle cx="234.7" cy="2194.0" r="2.5" fill="#ffffff"/><circle cx="243.9" cy="2198.5" r="15" fill="#000000"/><circle cx="239.4" cy="2194.0" r="7.5" fill="#9a9a9a"/><circle cx="239.4" cy="2194.0" r="5" fill="#cbcbcb"/><circle cx="239.4" cy="2194.0" r="2.5" fill="#ffffff"/><circle cx="248.6" cy="2198.5" r="15" fill="#000000"/><circle cx="244.1" cy="2194.0" r="7.5" fill="#9a9a9a"/><circle cx="244.1" cy="2194.0" r="5" fill="#cbcbcb"/><circle cx="244.1" cy="2194.0" r="2.5" fill="#ffffff"/><circle cx="252.0" cy="2198.5" r="15" fill="#000000"/><circle cx="247.5" cy="2194.0" r="7.5" fill="#9a9a9a"/><circle cx="247.5" cy="2194.0" r="5" fill="#cbcbcb"/><circle cx="247.5" cy="2194.0" r="2.5" fill="#ffffff"/><circle cx="257.3" cy="2198.5" r="15" fill="#000000"/><circle cx="252.8" cy="2194.0" r="7.5" fill="#9a9a9a"/><circle cx="252.8" cy="2194.0" r="5" fill="#cbcbcb"/><circle cx="252.8" cy="2194.0" r="2.5" fill="#ffffff"/><circle cx="265.4" cy="2198.0" r="15" fill="#000000"/><circle cx="260.9" cy="2193.5" r="7.5" fill="#9a9a9a"/><circle cx="260.9" cy="2193.5" r="5" fill="#cbcbcb"/><circle cx="260.9" cy="2193.5" r="2.5" fill="#ffffff"/><circle cx="272.7" cy="2197.5" r="15" fill="#000000"/><circle cx="268.2" cy="2193.0" r="7.5" fill="#9a9a9a"/><circle cx="268.2" cy="2193.0" r="5" fill="#cbcbcb"/><circle cx="268.2" cy="2193.0" r="2.5" fill="#ffffff"/><circle cx="285.5" cy="2195.0" r="15" fill="#000000"/><circle cx="281.0" cy="2190.5" r="7.5" fill="#9a9a9a"/><circle cx="281.0" cy="2190.5" r="5" fill="#cbcbcb"/><circle cx="281.0" cy="2190.5" r="2.5" fill="#ffffff"/><circle cx="298.9" cy="2191.0" r="15" fill="#000000"/><circle cx="294.4" cy="2186.5" r="7.5" fill="#9a9a9a"/><circle cx="294.4" cy="2186.5" r="5" fill="#cbcbcb"/><circle cx="294.4" cy="2186.5" r="2.5" fill="#ffffff"/><circle cx="311.0" cy="2191.0" r="15" fill="#000000"/><circle cx="306.5" cy="2186.5" r="7.5" fill="#9a9a9a"/><circle cx="306.5" cy="2186.5" r="5" fill="#cbcbcb"/><circle cx="306.5" cy="2186.5" r="2.5" fill="#ffffff"/><circle cx="322.4" cy="2191.0" r="15" fill="#000000"/><circle cx="317.9" cy="2186.5" r="7.5" fill="#9a9a9a"/><circle cx="317.9" cy="2186.5" r="5" fill="#cbcbcb"/><circle cx="317.9" cy="2186.5" r="2.5" fill="#ffffff"/><circle cx="336.5" cy="2192.0" r="15" fill="#000000"/><circle cx="332.0" cy="2187.5" r="7.5" fill="#9a9a9a"/><circle cx="332.0" cy="2187.5" r="5" fill="#cbcbcb"/><circle cx="332.0" cy="2187.5" r="2.5" fill="#ffffff"/><circle cx="356.4" cy="2188.8" r="15" fill="#000000"/><circle cx="351.9" cy="2184.3" r="7.5" fill="#9a9a9a"/><circle cx="351.9" cy="2184.3" r="5" fill="#cbcbcb"/><circle cx="351.9" cy="2184.3" r="2.5" fill="#ffffff"/><circle cx="388.3" cy="2188.8" r="15" fill="#000000"/><circle cx="383.8" cy="2184.3" r="7.5" fill="#9a9a9a"/><circle cx="383.8" cy="2184.3" r="5" fill="#cbcbcb"/><circle cx="383.8" cy="2184.3" r="2.5" fill="#ffffff"/><circle cx="413.5" cy="2185.4" r="15" fill="#000000"/><circle cx="409.0" cy="2180.9" r="7.5" fill="#9a9a9a"/><circle cx="409.0" cy="2180.9" r="5" fill="#cbcbcb"/><circle cx="409.0" cy="2180.9" r="2.5" fill="#ffffff"/><circle cx="460.4" cy="2182.1" r="15" fill="#000000"/><circle cx="455.9" cy="2177.6" r="7.5" fill="#9a9a9a"/><circle cx="455.9" cy="2177.6" r="5" fill="#cbcbcb"/><circle cx="455.9" cy="2177.6" r="2.5" fill="#ffffff"/><circle cx="500.7" cy="2183.8" r="15" fill="#000000"/><circle cx="496.2" cy="2179.3" r="7.5" fill="#9a9a9a"/><circle cx="496.2" cy="2179.3" r="5" fill="#cbcbcb"/><circle cx="496.2" cy="2179.3" r="2.5" fill="#ffffff"/><circle cx="567.7" cy="2175.4" r="15" fill="#000000"/><circle cx="563.2" cy="2170.9" r="7.5" fill="#9a9a9a"/><circle cx="563.2" cy="2170.9" r="5" fill="#cbcbcb"/><circle cx="563.2" cy="2170.9" r="2.5" fill="#ffffff"/><circle cx="616.4" cy="2177.1" r="15" fill="#000000"/><circle cx="611.9" cy="2172.6" r="7.5" fill="#9a9a9a"/><circle cx="611.9" cy="2172.6" r="5" fill="#cbcbcb"/><circle cx="611.9" cy="2172.6" r="2.5" fill="#ffffff"/><circle cx="884.1" cy="2166.6" r="15" fill="#000000"/><circle cx="879.6" cy="2162.1" r="7.5" fill="#9a9a9a"/><circle cx="879.6" cy="2162.1" r="5" fill="#cbcbcb"/><circle cx="879.6" cy="2162.1" r="2.5" fill="#ffffff"/><circle cx="1026.6" cy="2163.0" r="15" fill="#000000"/><circle cx="1022.1" cy="2158.5" r="7.5" fill="#9a9a9a"/><circle cx="1022.1" cy="2158.5" r="5" fill="#cbcbcb"/><circle cx="1022.1" cy="2158.5" r="2.5" fill="#ffffff"/><circle cx="1204.7" cy="2158.4" r="15" fill="#000000"/><circle cx="1200.2" cy="2153.9" r="7.5" fill="#9a9a9a"/><circle cx="1200.2" cy="2153.9" r="5" fill="#cbcbcb"/><circle cx="1200.2" cy="2153.9" r="2.5" fill="#ffffff"/><g stroke="#ff0000" stroke-width="10" stroke-linecap="round"><line x1="240.6" y1="2203.2" x2="277.8" y2="2197.9"/><line x1="289.3" y1="2197.5" x2="317.9" y2="2193.5"/><line x1="366.5" y1="2190.8" x2="396.7" y2="2186.8"/><line x1="443.6" y1="2184.9" x2="473.9" y2="2181.9"/><line x1="522.4" y1="2181.1" x2="552.7" y2="2179.0"/><line x1="601.2" y1="2176.9" x2="629.8" y2="2175.6"/><line x1="678.4" y1="2174.5" x2="708.6" y2="2173.2"/><line x1="756.9" y1="2171.3" x2="788.0" y2="2170.6"/><line x1="834.8" y1="2169.7" x2="865.5" y2="2168.3"/><line x1="913.3" y1="2166.9" x2="944.0" y2="2166.6"/><line x1="991.1" y1="2165.2" x2="1022.5" y2="2164.1"/><line x1="1068.7" y1="2163.9" x2="1101.0" y2="2163.9"/><line x1="1147.2" y1="2162.9" x2="1179.5" y2="2161.9"/><line x1="1225.7" y1="2161.5" x2="1231.0" y2="2161.4"/></g></g><text x="132.9" y="1923.3" font-size="43.5" font-weight="normal" fill="#000" textLength="81.0" lengthAdjust="spacingAndGlyphs">0.54</text><text x="133.5" y="2003.0" font-size="43.5" font-weight="normal" fill="#000" textLength="81.0" lengthAdjust="spacingAndGlyphs">0.51</text><text x="133.3" y="2082.6" font-size="43.5" font-weight="normal" fill="#000" textLength="81.0" lengthAdjust="spacingAndGlyphs">0.48</text><text x="133.3" y="2162.2" font-size="43.5" font-weight="normal" fill="#000" textLength="81.0" lengthAdjust="spacingAndGlyphs">0.45</text><text x="133.7" y="2241.9" font-size="43.5" font-weight="normal" fill="#000" textLength="81.0" lengthAdjust="spacingAndGlyphs">0.42</text>
<path d="M229.5 2329.8H245.5M229.5 2409.6H245.5M229.5 2489.4H245.5M229.5 2569.2H245.5M229.5 2649.0H245.5M229.5 2289.9H238.5M229.5 2369.7H238.5M229.5 2449.5H238.5M229.5 2529.3H238.5M229.5 2609.1H238.5M239.5 2677.0V2661.0M404.4 2677.0V2661.0M569.2 2677.0V2661.0M734.0 2677.0V2661.0M898.9 2677.0V2661.0M1063.8 2677.0V2661.0M321.9 2677.0V2668.0M486.8 2677.0V2668.0M651.6 2677.0V2668.0M816.5 2677.0V2668.0M981.3 2677.0V2668.0M1146.2 2677.0V2668.0" stroke="#000" stroke-width="4" fill="none"/><rect x="229.5" y="2276.5" width="999.0" height="400.5" fill="none" stroke="#000" stroke-width="4"/><g clip-path="url(#cLB3)"><circle cx="238.0" cy="2658.7" r="15" fill="#000000"/><circle cx="233.5" cy="2654.2" r="7.5" fill="#9a9a9a"/><circle cx="233.5" cy="2654.2" r="5" fill="#cbcbcb"/><circle cx="233.5" cy="2654.2" r="2.5" fill="#ffffff"/><circle cx="250.0" cy="2657.0" r="15" fill="#000000"/><circle cx="245.5" cy="2652.5" r="7.5" fill="#9a9a9a"/><circle cx="245.5" cy="2652.5" r="5" fill="#cbcbcb"/><circle cx="245.5" cy="2652.5" r="2.5" fill="#ffffff"/><circle cx="267.0" cy="2656.7" r="15" fill="#000000"/><circle cx="262.5" cy="2652.2" r="7.5" fill="#9a9a9a"/><circle cx="262.5" cy="2652.2" r="5" fill="#cbcbcb"/><circle cx="262.5" cy="2652.2" r="2.5" fill="#ffffff"/><circle cx="285.0" cy="2654.6" r="15" fill="#000000"/><circle cx="280.5" cy="2650.1" r="7.5" fill="#9a9a9a"/><circle cx="280.5" cy="2650.1" r="5" fill="#cbcbcb"/><circle cx="280.5" cy="2650.1" r="2.5" fill="#ffffff"/><circle cx="300.0" cy="2653.3" r="15" fill="#000000"/><circle cx="295.5" cy="2648.8" r="7.5" fill="#9a9a9a"/><circle cx="295.5" cy="2648.8" r="5" fill="#cbcbcb"/><circle cx="295.5" cy="2648.8" r="2.5" fill="#ffffff"/><circle cx="245.9" cy="2651.0" r="15" fill="#000000"/><circle cx="241.4" cy="2646.5" r="7.5" fill="#9a9a9a"/><circle cx="241.4" cy="2646.5" r="5" fill="#cbcbcb"/><circle cx="241.4" cy="2646.5" r="2.5" fill="#ffffff"/><circle cx="251.3" cy="2652.5" r="15" fill="#000000"/><circle cx="246.8" cy="2648.0" r="7.5" fill="#9a9a9a"/><circle cx="246.8" cy="2648.0" r="5" fill="#cbcbcb"/><circle cx="246.8" cy="2648.0" r="2.5" fill="#ffffff"/><circle cx="258.7" cy="2653.0" r="15" fill="#000000"/><circle cx="254.2" cy="2648.5" r="7.5" fill="#9a9a9a"/><circle cx="254.2" cy="2648.5" r="5" fill="#cbcbcb"/><circle cx="254.2" cy="2648.5" r="2.5" fill="#ffffff"/><circle cx="263.4" cy="2654.7" r="15" fill="#000000"/><circle cx="258.9" cy="2650.2" r="7.5" fill="#9a9a9a"/><circle cx="258.9" cy="2650.2" r="5" fill="#cbcbcb"/><circle cx="258.9" cy="2650.2" r="2.5" fill="#ffffff"/><circle cx="275.0" cy="2650.5" r="15" fill="#000000"/><circle cx="270.5" cy="2646.0" r="7.5" fill="#9a9a9a"/><circle cx="270.5" cy="2646.0" r="5" fill="#cbcbcb"/><circle cx="270.5" cy="2646.0" r="2.5" fill="#ffffff"/><circle cx="284.2" cy="2655.0" r="15" fill="#000000"/><circle cx="279.7" cy="2650.5" r="7.5" fill="#9a9a9a"/><circle cx="279.7" cy="2650.5" r="5" fill="#cbcbcb"/><circle cx="279.7" cy="2650.5" r="2.5" fill="#ffffff"/><circle cx="295.5" cy="2647.0" r="15" fill="#000000"/><circle cx="291.0" cy="2642.5" r="7.5" fill="#9a9a9a"/><circle cx="291.0" cy="2642.5" r="5" fill="#cbcbcb"/><circle cx="291.0" cy="2642.5" r="2.5" fill="#ffffff"/><circle cx="303.6" cy="2646.5" r="15" fill="#000000"/><circle cx="299.1" cy="2642.0" r="7.5" fill="#9a9a9a"/><circle cx="299.1" cy="2642.0" r="5" fill="#cbcbcb"/><circle cx="299.1" cy="2642.0" r="2.5" fill="#ffffff"/><circle cx="315.7" cy="2646.0" r="15" fill="#000000"/><circle cx="311.2" cy="2641.5" r="7.5" fill="#9a9a9a"/><circle cx="311.2" cy="2641.5" r="5" fill="#cbcbcb"/><circle cx="311.2" cy="2641.5" r="2.5" fill="#ffffff"/><circle cx="324.4" cy="2646.5" r="15" fill="#000000"/><circle cx="319.9" cy="2642.0" r="7.5" fill="#9a9a9a"/><circle cx="319.9" cy="2642.0" r="5" fill="#cbcbcb"/><circle cx="319.9" cy="2642.0" r="2.5" fill="#ffffff"/><circle cx="337.1" cy="2645.5" r="15" fill="#000000"/><circle cx="332.6" cy="2641.0" r="7.5" fill="#9a9a9a"/><circle cx="332.6" cy="2641.0" r="5" fill="#cbcbcb"/><circle cx="332.6" cy="2641.0" r="2.5" fill="#ffffff"/><circle cx="358.1" cy="2645.7" r="15" fill="#000000"/><circle cx="353.6" cy="2641.2" r="7.5" fill="#9a9a9a"/><circle cx="353.6" cy="2641.2" r="5" fill="#cbcbcb"/><circle cx="353.6" cy="2641.2" r="2.5" fill="#ffffff"/><circle cx="391.7" cy="2645.0" r="15" fill="#000000"/><circle cx="387.2" cy="2640.5" r="7.5" fill="#9a9a9a"/><circle cx="387.2" cy="2640.5" r="5" fill="#cbcbcb"/><circle cx="387.2" cy="2640.5" r="2.5" fill="#ffffff"/><circle cx="416.8" cy="2640.7" r="15" fill="#000000"/><circle cx="412.3" cy="2636.2" r="7.5" fill="#9a9a9a"/><circle cx="412.3" cy="2636.2" r="5" fill="#cbcbcb"/><circle cx="412.3" cy="2636.2" r="2.5" fill="#ffffff"/><circle cx="454.7" cy="2637.3" r="15" fill="#000000"/><circle cx="450.2" cy="2632.8" r="7.5" fill="#9a9a9a"/><circle cx="450.2" cy="2632.8" r="5" fill="#cbcbcb"/><circle cx="450.2" cy="2632.8" r="2.5" fill="#ffffff"/><circle cx="507.4" cy="2635.6" r="15" fill="#000000"/><circle cx="502.9" cy="2631.1" r="7.5" fill="#9a9a9a"/><circle cx="502.9" cy="2631.1" r="5" fill="#cbcbcb"/><circle cx="502.9" cy="2631.1" r="2.5" fill="#ffffff"/><circle cx="545.3" cy="2630.6" r="15" fill="#000000"/><circle cx="540.8" cy="2626.1" r="7.5" fill="#9a9a9a"/><circle cx="540.8" cy="2626.1" r="5" fill="#cbcbcb"/><circle cx="540.8" cy="2626.1" r="2.5" fill="#ffffff"/><circle cx="671.7" cy="2627.2" r="15" fill="#000000"/><circle cx="667.2" cy="2622.7" r="7.5" fill="#9a9a9a"/><circle cx="667.2" cy="2622.7" r="5" fill="#cbcbcb"/><circle cx="667.2" cy="2622.7" r="2.5" fill="#ffffff"/><circle cx="894.7" cy="2624.6" r="15" fill="#000000"/><circle cx="890.2" cy="2620.1" r="7.5" fill="#9a9a9a"/><circle cx="890.2" cy="2620.1" r="5" fill="#cbcbcb"/><circle cx="890.2" cy="2620.1" r="2.5" fill="#ffffff"/><circle cx="1137.7" cy="2617.1" r="15" fill="#000000"/><circle cx="1133.2" cy="2612.6" r="7.5" fill="#9a9a9a"/><circle cx="1133.2" cy="2612.6" r="5" fill="#cbcbcb"/><circle cx="1133.2" cy="2612.6" r="2.5" fill="#ffffff"/><g stroke="#ff0000" stroke-width="10" stroke-linecap="round"><line x1="240.6" y1="2656.7" x2="269.4" y2="2652.4"/><line x1="299.3" y1="2651.0" x2="329.7" y2="2646.4"/><line x1="378.1" y1="2645.0" x2="408.6" y2="2640.3"/><line x1="455.3" y1="2638.8" x2="485.6" y2="2637.5"/><line x1="534.2" y1="2635.9" x2="564.4" y2="2633.3"/><line x1="613.0" y1="2631.5" x2="643.2" y2="2630.7"/><line x1="691.8" y1="2628.8" x2="722.2" y2="2628.3"/><line x1="768.4" y1="2626.5" x2="800.6" y2="2625.4"/><line x1="846.9" y1="2624.4" x2="879.1" y2="2623.3"/><line x1="925.3" y1="2622.7" x2="956.1" y2="2621.7"/><line x1="1003.2" y1="2620.7" x2="1035.5" y2="2620.7"/><line x1="1081.7" y1="2619.7" x2="1113.0" y2="2618.7"/><line x1="1159.3" y1="2618.5" x2="1191.5" y2="2618.1"/></g></g><text x="132.9" y="2342.0" font-size="43.5" font-weight="normal" fill="#000" textLength="81.0" lengthAdjust="spacingAndGlyphs">0.54</text><text x="133.5" y="2421.8" font-size="43.5" font-weight="normal" fill="#000" textLength="81.0" lengthAdjust="spacingAndGlyphs">0.51</text><text x="133.3" y="2501.6" font-size="43.5" font-weight="normal" fill="#000" textLength="81.0" lengthAdjust="spacingAndGlyphs">0.48</text><text x="133.3" y="2581.4" font-size="43.5" font-weight="normal" fill="#000" textLength="81.0" lengthAdjust="spacingAndGlyphs">0.45</text><text x="133.7" y="2661.2" font-size="43.5" font-weight="normal" fill="#000" textLength="81.0" lengthAdjust="spacingAndGlyphs">0.42</text><text x="227.8" y="2724.6" font-size="43.5" font-weight="normal" fill="#000" textLength="23.2" lengthAdjust="spacingAndGlyphs">0</text><text x="380.9" y="2724.6" font-size="43.5" font-weight="normal" fill="#000" textLength="46.3" lengthAdjust="spacingAndGlyphs">20</text><text x="546.4" y="2724.6" font-size="43.5" font-weight="normal" fill="#000" textLength="46.3" lengthAdjust="spacingAndGlyphs">40</text><text x="710.6" y="2724.6" font-size="43.5" font-weight="normal" fill="#000" textLength="46.3" lengthAdjust="spacingAndGlyphs">60</text><text x="875.6" y="2724.6" font-size="43.5" font-weight="normal" fill="#000" textLength="46.3" lengthAdjust="spacingAndGlyphs">80</text><text x="1028.3" y="2724.6" font-size="43.5" font-weight="normal" fill="#000" textLength="69.5" lengthAdjust="spacingAndGlyphs">100</text><text x="1193.1" y="2724.6" font-size="43.5" font-weight="normal" fill="#000" textLength="69.5" lengthAdjust="spacingAndGlyphs">120</text>
<path d="M1393.0 1478.4H1409.0M1393.0 1659.8H1409.0M1393.0 1568.2H1402.0M1393.0 1750.3H1402.0M1402.4 1841.3V1825.3M1567.2 1841.3V1825.3M1732.1 1841.3V1825.3M1896.9 1841.3V1825.3M2061.8 1841.3V1825.3M2226.6 1841.3V1825.3M1484.8 1841.3V1832.3M1649.7 1841.3V1832.3M1814.5 1841.3V1832.3M1979.3 1841.3V1832.3M2144.2 1841.3V1832.3M2309.0 1841.3V1832.3" stroke="#000" stroke-width="4" fill="none"/><rect x="1393.0" y="1441.7" width="999.8" height="399.6" fill="none" stroke="#000" stroke-width="4"/><g clip-path="url(#cRB1)"><circle cx="1400.7" cy="1495.5" r="15" fill="#008000"/><circle cx="1396.2" cy="1491.0" r="7.5" fill="#33b874"/><circle cx="1396.2" cy="1491.0" r="5" fill="#a6dcb9"/><circle cx="1396.2" cy="1491.0" r="2.5" fill="#f4fff6"/><circle cx="1402.4" cy="1487.0" r="15" fill="#008000"/><circle cx="1397.9" cy="1482.5" r="7.5" fill="#33b874"/><circle cx="1397.9" cy="1482.5" r="5" fill="#a6dcb9"/><circle cx="1397.9" cy="1482.5" r="2.5" fill="#f4fff6"/><circle cx="1404.0" cy="1473.7" r="15" fill="#008000"/><circle cx="1399.5" cy="1469.2" r="7.5" fill="#33b874"/><circle cx="1399.5" cy="1469.2" r="5" fill="#a6dcb9"/><circle cx="1399.5" cy="1469.2" r="2.5" fill="#f4fff6"/><circle cx="1407.4" cy="1477.0" r="15" fill="#008000"/><circle cx="1402.9" cy="1472.5" r="7.5" fill="#33b874"/><circle cx="1402.9" cy="1472.5" r="5" fill="#a6dcb9"/><circle cx="1402.9" cy="1472.5" r="2.5" fill="#f4fff6"/><circle cx="1419.1" cy="1482.0" r="15" fill="#008000"/><circle cx="1414.6" cy="1477.5" r="7.5" fill="#33b874"/><circle cx="1414.6" cy="1477.5" r="5" fill="#a6dcb9"/><circle cx="1414.6" cy="1477.5" r="2.5" fill="#f4fff6"/><circle cx="1427.5" cy="1488.8" r="15" fill="#008000"/><circle cx="1423.0" cy="1484.3" r="7.5" fill="#33b874"/><circle cx="1423.0" cy="1484.3" r="5" fill="#a6dcb9"/><circle cx="1423.0" cy="1484.3" r="2.5" fill="#f4fff6"/><circle cx="1437.6" cy="1492.1" r="15" fill="#008000"/><circle cx="1433.1" cy="1487.6" r="7.5" fill="#33b874"/><circle cx="1433.1" cy="1487.6" r="5" fill="#a6dcb9"/><circle cx="1433.1" cy="1487.6" r="2.5" fill="#f4fff6"/><circle cx="1447.6" cy="1495.5" r="15" fill="#008000"/><circle cx="1443.1" cy="1491.0" r="7.5" fill="#33b874"/><circle cx="1443.1" cy="1491.0" r="5" fill="#a6dcb9"/><circle cx="1443.1" cy="1491.0" r="2.5" fill="#f4fff6"/><circle cx="1464.4" cy="1497.8" r="15" fill="#008000"/><circle cx="1459.9" cy="1493.3" r="7.5" fill="#33b874"/><circle cx="1459.9" cy="1493.3" r="5" fill="#a6dcb9"/><circle cx="1459.9" cy="1493.3" r="2.5" fill="#f4fff6"/><circle cx="1471.1" cy="1503.8" r="15" fill="#008000"/><circle cx="1466.6" cy="1499.3" r="7.5" fill="#33b874"/><circle cx="1466.6" cy="1499.3" r="5" fill="#a6dcb9"/><circle cx="1466.6" cy="1499.3" r="2.5" fill="#f4fff6"/><circle cx="1484.5" cy="1503.8" r="15" fill="#008000"/><circle cx="1480.0" cy="1499.3" r="7.5" fill="#33b874"/><circle cx="1480.0" cy="1499.3" r="5" fill="#a6dcb9"/><circle cx="1480.0" cy="1499.3" r="2.5" fill="#f4fff6"/><circle cx="1503.0" cy="1507.9" r="15" fill="#008000"/><circle cx="1498.5" cy="1503.4" r="7.5" fill="#33b874"/><circle cx="1498.5" cy="1503.4" r="5" fill="#a6dcb9"/><circle cx="1498.5" cy="1503.4" r="2.5" fill="#f4fff6"/><circle cx="1524.8" cy="1514.9" r="15" fill="#008000"/><circle cx="1520.3" cy="1510.4" r="7.5" fill="#33b874"/><circle cx="1520.3" cy="1510.4" r="5" fill="#a6dcb9"/><circle cx="1520.3" cy="1510.4" r="2.5" fill="#f4fff6"/><circle cx="1556.6" cy="1518.9" r="15" fill="#008000"/><circle cx="1552.1" cy="1514.4" r="7.5" fill="#33b874"/><circle cx="1552.1" cy="1514.4" r="5" fill="#a6dcb9"/><circle cx="1552.1" cy="1514.4" r="2.5" fill="#f4fff6"/><circle cx="1586.8" cy="1524.6" r="15" fill="#008000"/><circle cx="1582.3" cy="1520.1" r="7.5" fill="#33b874"/><circle cx="1582.3" cy="1520.1" r="5" fill="#a6dcb9"/><circle cx="1582.3" cy="1520.1" r="2.5" fill="#f4fff6"/><circle cx="1612.0" cy="1529.0" r="15" fill="#008000"/><circle cx="1607.5" cy="1524.5" r="7.5" fill="#33b874"/><circle cx="1607.5" cy="1524.5" r="5" fill="#a6dcb9"/><circle cx="1607.5" cy="1524.5" r="2.5" fill="#f4fff6"/><circle cx="1685.7" cy="1539.1" r="15" fill="#008000"/><circle cx="1681.2" cy="1534.6" r="7.5" fill="#33b874"/><circle cx="1681.2" cy="1534.6" r="5" fill="#a6dcb9"/><circle cx="1681.2" cy="1534.6" r="2.5" fill="#f4fff6"/><circle cx="1791.4" cy="1549.1" r="15" fill="#008000"/><circle cx="1786.9" cy="1544.6" r="7.5" fill="#33b874"/><circle cx="1786.9" cy="1544.6" r="5" fill="#a6dcb9"/><circle cx="1786.9" cy="1544.6" r="2.5" fill="#f4fff6"/><circle cx="1846.7" cy="1557.5" r="15" fill="#008000"/><circle cx="1842.2" cy="1553.0" r="7.5" fill="#33b874"/><circle cx="1842.2" cy="1553.0" r="5" fill="#a6dcb9"/><circle cx="1842.2" cy="1553.0" r="2.5" fill="#f4fff6"/><circle cx="2100.4" cy="1572.8" r="15" fill="#008000"/><circle cx="2095.9" cy="1568.3" r="7.5" fill="#33b874"/><circle cx="2095.9" cy="1568.3" r="5" fill="#a6dcb9"/><circle cx="2095.9" cy="1568.3" r="2.5" fill="#f4fff6"/><circle cx="2198.2" cy="1577.4" r="15" fill="#008000"/><circle cx="2193.7" cy="1572.9" r="7.5" fill="#33b874"/><circle cx="2193.7" cy="1572.9" r="5" fill="#a6dcb9"/><circle cx="2193.7" cy="1572.9" r="2.5" fill="#f4fff6"/></g><text x="1320.8" y="1490.6" font-size="43.5" font-weight="normal" fill="#000" textLength="57.9" lengthAdjust="spacingAndGlyphs">1.0</text><text x="1321.2" y="1672.0" font-size="43.5" font-weight="normal" fill="#000" textLength="57.9" lengthAdjust="spacingAndGlyphs">0.9</text><text x="1321.0" y="1853.5" font-size="43.5" font-weight="normal" fill="#000" textLength="57.9" lengthAdjust="spacingAndGlyphs">0.8</text>
<path d="M1392.3 1895.6H1408.3M1392.3 2077.1H1408.3M1392.3 1985.9H1401.3M1392.3 2167.7H1401.3M1400.7 2258.6V2242.6M1565.5 2258.6V2242.6M1730.4 2258.6V2242.6M1895.2 2258.6V2242.6M2060.1 2258.6V2242.6M2224.9 2258.6V2242.6M1483.1 2258.6V2249.6M1648.0 2258.6V2249.6M1812.8 2258.6V2249.6M1977.6 2258.6V2249.6M2142.5 2258.6V2249.6M2307.3 2258.6V2249.6" stroke="#000" stroke-width="4" fill="none"/><rect x="1392.3" y="1859.3" width="998.0" height="399.3" fill="none" stroke="#000" stroke-width="4"/><g clip-path="url(#cRB2)"><circle cx="1399.0" cy="1905.4" r="15" fill="#ff00ff"/><circle cx="1394.5" cy="1900.9" r="7.5" fill="#ff66ff"/><circle cx="1394.5" cy="1900.9" r="5" fill="#ffb3ff"/><circle cx="1394.5" cy="1900.9" r="2.5" fill="#fff4ff"/><circle cx="1400.7" cy="1890.3" r="15" fill="#ff00ff"/><circle cx="1396.2" cy="1885.8" r="7.5" fill="#ff66ff"/><circle cx="1396.2" cy="1885.8" r="5" fill="#ffb3ff"/><circle cx="1396.2" cy="1885.8" r="2.5" fill="#fff4ff"/><circle cx="1404.0" cy="1895.3" r="15" fill="#ff00ff"/><circle cx="1399.5" cy="1890.8" r="7.5" fill="#ff66ff"/><circle cx="1399.5" cy="1890.8" r="5" fill="#ffb3ff"/><circle cx="1399.5" cy="1890.8" r="2.5" fill="#fff4ff"/><circle cx="1414.1" cy="1898.7" r="15" fill="#ff00ff"/><circle cx="1409.6" cy="1894.2" r="7.5" fill="#ff66ff"/><circle cx="1409.6" cy="1894.2" r="5" fill="#ffb3ff"/><circle cx="1409.6" cy="1894.2" r="2.5" fill="#fff4ff"/><circle cx="1424.2" cy="1900.4" r="15" fill="#ff00ff"/><circle cx="1419.7" cy="1895.9" r="7.5" fill="#ff66ff"/><circle cx="1419.7" cy="1895.9" r="5" fill="#ffb3ff"/><circle cx="1419.7" cy="1895.9" r="2.5" fill="#fff4ff"/><circle cx="1434.2" cy="1902.0" r="15" fill="#ff00ff"/><circle cx="1429.7" cy="1897.5" r="7.5" fill="#ff66ff"/><circle cx="1429.7" cy="1897.5" r="5" fill="#ffb3ff"/><circle cx="1429.7" cy="1897.5" r="2.5" fill="#fff4ff"/><circle cx="1444.3" cy="1906.4" r="15" fill="#ff00ff"/><circle cx="1439.8" cy="1901.9" r="7.5" fill="#ff66ff"/><circle cx="1439.8" cy="1901.9" r="5" fill="#ffb3ff"/><circle cx="1439.8" cy="1901.9" r="2.5" fill="#fff4ff"/><circle cx="1461.0" cy="1910.4" r="15" fill="#ff00ff"/><circle cx="1456.5" cy="1905.9" r="7.5" fill="#ff66ff"/><circle cx="1456.5" cy="1905.9" r="5" fill="#ffb3ff"/><circle cx="1456.5" cy="1905.9" r="2.5" fill="#fff4ff"/><circle cx="1471.1" cy="1918.8" r="15" fill="#ff00ff"/><circle cx="1466.6" cy="1914.3" r="7.5" fill="#ff66ff"/><circle cx="1466.6" cy="1914.3" r="5" fill="#ffb3ff"/><circle cx="1466.6" cy="1914.3" r="2.5" fill="#fff4ff"/><circle cx="1487.9" cy="1907.1" r="15" fill="#ff00ff"/><circle cx="1483.4" cy="1902.6" r="7.5" fill="#ff66ff"/><circle cx="1483.4" cy="1902.6" r="5" fill="#ffb3ff"/><circle cx="1483.4" cy="1902.6" r="2.5" fill="#fff4ff"/><circle cx="1496.3" cy="1917.1" r="15" fill="#ff00ff"/><circle cx="1491.8" cy="1912.6" r="7.5" fill="#ff66ff"/><circle cx="1491.8" cy="1912.6" r="5" fill="#ffb3ff"/><circle cx="1491.8" cy="1912.6" r="2.5" fill="#fff4ff"/><circle cx="1518.1" cy="1921.2" r="15" fill="#ff00ff"/><circle cx="1513.6" cy="1916.7" r="7.5" fill="#ff66ff"/><circle cx="1513.6" cy="1916.7" r="5" fill="#ffb3ff"/><circle cx="1513.6" cy="1916.7" r="2.5" fill="#fff4ff"/><circle cx="1549.9" cy="1924.5" r="15" fill="#ff00ff"/><circle cx="1545.4" cy="1920.0" r="7.5" fill="#ff66ff"/><circle cx="1545.4" cy="1920.0" r="5" fill="#ffb3ff"/><circle cx="1545.4" cy="1920.0" r="2.5" fill="#fff4ff"/><circle cx="1575.1" cy="1927.9" r="15" fill="#ff00ff"/><circle cx="1570.6" cy="1923.4" r="7.5" fill="#ff66ff"/><circle cx="1570.6" cy="1923.4" r="5" fill="#ffb3ff"/><circle cx="1570.6" cy="1923.4" r="2.5" fill="#fff4ff"/><circle cx="1621.4" cy="1933.9" r="15" fill="#ff00ff"/><circle cx="1616.9" cy="1929.4" r="7.5" fill="#ff66ff"/><circle cx="1616.9" cy="1929.4" r="5" fill="#ffb3ff"/><circle cx="1616.9" cy="1929.4" r="2.5" fill="#fff4ff"/><circle cx="1661.6" cy="1935.6" r="15" fill="#ff00ff"/><circle cx="1657.1" cy="1931.1" r="7.5" fill="#ff66ff"/><circle cx="1657.1" cy="1931.1" r="5" fill="#ffb3ff"/><circle cx="1657.1" cy="1931.1" r="2.5" fill="#fff4ff"/><circle cx="1729.3" cy="1945.6" r="15" fill="#ff00ff"/><circle cx="1724.8" cy="1941.1" r="7.5" fill="#ff66ff"/><circle cx="1724.8" cy="1941.1" r="5" fill="#ffb3ff"/><circle cx="1724.8" cy="1941.1" r="2.5" fill="#fff4ff"/><circle cx="1778.0" cy="1944.6" r="15" fill="#ff00ff"/><circle cx="1773.5" cy="1940.1" r="7.5" fill="#ff66ff"/><circle cx="1773.5" cy="1940.1" r="5" fill="#ffb3ff"/><circle cx="1773.5" cy="1940.1" r="2.5" fill="#fff4ff"/><circle cx="2045.1" cy="1963.0" r="15" fill="#ff00ff"/><circle cx="2040.6" cy="1958.5" r="7.5" fill="#ff66ff"/><circle cx="2040.6" cy="1958.5" r="5" fill="#ffb3ff"/><circle cx="2040.6" cy="1958.5" r="2.5" fill="#fff4ff"/><circle cx="2187.4" cy="1969.1" r="15" fill="#ff00ff"/><circle cx="2182.9" cy="1964.6" r="7.5" fill="#ff66ff"/><circle cx="2182.9" cy="1964.6" r="5" fill="#ffb3ff"/><circle cx="2182.9" cy="1964.6" r="2.5" fill="#fff4ff"/><circle cx="2365.7" cy="1977.4" r="15" fill="#ff00ff"/><circle cx="2361.2" cy="1972.9" r="7.5" fill="#ff66ff"/><circle cx="2361.2" cy="1972.9" r="5" fill="#ffb3ff"/><circle cx="2361.2" cy="1972.9" r="2.5" fill="#fff4ff"/></g><text x="1320.8" y="1907.8" font-size="43.5" font-weight="normal" fill="#000" textLength="57.9" lengthAdjust="spacingAndGlyphs">1.0</text><text x="1321.2" y="2089.3" font-size="43.5" font-weight="normal" fill="#000" textLength="57.9" lengthAdjust="spacingAndGlyphs">0.9</text><text x="1321.0" y="2270.8" font-size="43.5" font-weight="normal" fill="#000" textLength="57.9" lengthAdjust="spacingAndGlyphs">0.8</text>
<path d="M1392.3 2313.7H1408.3M1392.3 2494.8H1408.3M1392.3 2404.2H1401.3M1392.3 2585.3H1401.3M1400.7 2676.8V2660.8M1565.5 2676.8V2660.8M1730.4 2676.8V2660.8M1895.2 2676.8V2660.8M2060.1 2676.8V2660.8M2224.9 2676.8V2660.8M1483.1 2676.8V2667.8M1648.0 2676.8V2667.8M1812.8 2676.8V2667.8M1977.6 2676.8V2667.8M2142.5 2676.8V2667.8M2307.3 2676.8V2667.8" stroke="#000" stroke-width="4" fill="none"/><rect x="1392.3" y="2276.8" width="998.0" height="400.0" fill="none" stroke="#000" stroke-width="4"/><g clip-path="url(#cRB3)"><circle cx="1397.3" cy="2327.1" r="15" fill="#8f00ff"/><circle cx="1392.8" cy="2322.6" r="7.5" fill="#c36bff"/><circle cx="1392.8" cy="2322.6" r="5" fill="#e2b8ff"/><circle cx="1392.8" cy="2322.6" r="2.5" fill="#fbf4ff"/><circle cx="1399.0" cy="2310.3" r="15" fill="#8f00ff"/><circle cx="1394.5" cy="2305.8" r="7.5" fill="#c36bff"/><circle cx="1394.5" cy="2305.8" r="5" fill="#e2b8ff"/><circle cx="1394.5" cy="2305.8" r="2.5" fill="#fbf4ff"/><circle cx="1405.7" cy="2317.0" r="15" fill="#8f00ff"/><circle cx="1401.2" cy="2312.5" r="7.5" fill="#c36bff"/><circle cx="1401.2" cy="2312.5" r="5" fill="#e2b8ff"/><circle cx="1401.2" cy="2312.5" r="2.5" fill="#fbf4ff"/><circle cx="1410.7" cy="2327.1" r="15" fill="#8f00ff"/><circle cx="1406.2" cy="2322.6" r="7.5" fill="#c36bff"/><circle cx="1406.2" cy="2322.6" r="5" fill="#e2b8ff"/><circle cx="1406.2" cy="2322.6" r="2.5" fill="#fbf4ff"/><circle cx="1425.8" cy="2315.3" r="15" fill="#8f00ff"/><circle cx="1421.3" cy="2310.8" r="7.5" fill="#c36bff"/><circle cx="1421.3" cy="2310.8" r="5" fill="#e2b8ff"/><circle cx="1421.3" cy="2310.8" r="2.5" fill="#fbf4ff"/><circle cx="1434.2" cy="2327.1" r="15" fill="#8f00ff"/><circle cx="1429.7" cy="2322.6" r="7.5" fill="#c36bff"/><circle cx="1429.7" cy="2322.6" r="5" fill="#e2b8ff"/><circle cx="1429.7" cy="2322.6" r="2.5" fill="#fbf4ff"/><circle cx="1444.3" cy="2319.7" r="15" fill="#8f00ff"/><circle cx="1439.8" cy="2315.2" r="7.5" fill="#c36bff"/><circle cx="1439.8" cy="2315.2" r="5" fill="#e2b8ff"/><circle cx="1439.8" cy="2315.2" r="2.5" fill="#fbf4ff"/><circle cx="1454.3" cy="2335.5" r="15" fill="#8f00ff"/><circle cx="1449.8" cy="2331.0" r="7.5" fill="#c36bff"/><circle cx="1449.8" cy="2331.0" r="5" fill="#e2b8ff"/><circle cx="1449.8" cy="2331.0" r="2.5" fill="#fbf4ff"/><circle cx="1462.7" cy="2327.1" r="15" fill="#8f00ff"/><circle cx="1458.2" cy="2322.6" r="7.5" fill="#c36bff"/><circle cx="1458.2" cy="2322.6" r="5" fill="#e2b8ff"/><circle cx="1458.2" cy="2322.6" r="2.5" fill="#fbf4ff"/><circle cx="1472.8" cy="2330.4" r="15" fill="#8f00ff"/><circle cx="1468.3" cy="2325.9" r="7.5" fill="#c36bff"/><circle cx="1468.3" cy="2325.9" r="5" fill="#e2b8ff"/><circle cx="1468.3" cy="2325.9" r="2.5" fill="#fbf4ff"/><circle cx="1484.5" cy="2332.1" r="15" fill="#8f00ff"/><circle cx="1480.0" cy="2327.6" r="7.5" fill="#c36bff"/><circle cx="1480.0" cy="2327.6" r="5" fill="#e2b8ff"/><circle cx="1480.0" cy="2327.6" r="2.5" fill="#fbf4ff"/><circle cx="1497.9" cy="2337.8" r="15" fill="#8f00ff"/><circle cx="1493.4" cy="2333.3" r="7.5" fill="#c36bff"/><circle cx="1493.4" cy="2333.3" r="5" fill="#e2b8ff"/><circle cx="1493.4" cy="2333.3" r="2.5" fill="#fbf4ff"/><circle cx="1521.4" cy="2336.5" r="15" fill="#8f00ff"/><circle cx="1516.9" cy="2332.0" r="7.5" fill="#c36bff"/><circle cx="1516.9" cy="2332.0" r="5" fill="#e2b8ff"/><circle cx="1516.9" cy="2332.0" r="2.5" fill="#fbf4ff"/><circle cx="1553.3" cy="2339.8" r="15" fill="#8f00ff"/><circle cx="1548.8" cy="2335.3" r="7.5" fill="#c36bff"/><circle cx="1548.8" cy="2335.3" r="5" fill="#e2b8ff"/><circle cx="1548.8" cy="2335.3" r="2.5" fill="#fbf4ff"/><circle cx="1578.4" cy="2343.8" r="15" fill="#8f00ff"/><circle cx="1573.9" cy="2339.3" r="7.5" fill="#c36bff"/><circle cx="1573.9" cy="2339.3" r="5" fill="#e2b8ff"/><circle cx="1573.9" cy="2339.3" r="2.5" fill="#fbf4ff"/><circle cx="1617.7" cy="2351.2" r="15" fill="#8f00ff"/><circle cx="1613.2" cy="2346.7" r="7.5" fill="#c36bff"/><circle cx="1613.2" cy="2346.7" r="5" fill="#e2b8ff"/><circle cx="1613.2" cy="2346.7" r="2.5" fill="#fbf4ff"/><circle cx="1669.0" cy="2353.2" r="15" fill="#8f00ff"/><circle cx="1664.5" cy="2348.7" r="7.5" fill="#c36bff"/><circle cx="1664.5" cy="2348.7" r="5" fill="#e2b8ff"/><circle cx="1664.5" cy="2348.7" r="2.5" fill="#fbf4ff"/><circle cx="1707.5" cy="2358.9" r="15" fill="#8f00ff"/><circle cx="1703.0" cy="2354.4" r="7.5" fill="#c36bff"/><circle cx="1703.0" cy="2354.4" r="5" fill="#e2b8ff"/><circle cx="1703.0" cy="2354.4" r="2.5" fill="#fbf4ff"/><circle cx="1833.3" cy="2369.7" r="15" fill="#8f00ff"/><circle cx="1828.8" cy="2365.2" r="7.5" fill="#c36bff"/><circle cx="1828.8" cy="2365.2" r="5" fill="#e2b8ff"/><circle cx="1828.8" cy="2365.2" r="2.5" fill="#fbf4ff"/><circle cx="2056.8" cy="2376.2" r="15" fill="#8f00ff"/><circle cx="2052.3" cy="2371.7" r="7.5" fill="#c36bff"/><circle cx="2052.3" cy="2371.7" r="5" fill="#e2b8ff"/><circle cx="2052.3" cy="2371.7" r="2.5" fill="#fbf4ff"/><circle cx="2299.7" cy="2389.1" r="15" fill="#8f00ff"/><circle cx="2295.2" cy="2384.6" r="7.5" fill="#c36bff"/><circle cx="2295.2" cy="2384.6" r="5" fill="#e2b8ff"/><circle cx="2295.2" cy="2384.6" r="2.5" fill="#fbf4ff"/></g><text x="1320.8" y="2325.9" font-size="43.5" font-weight="normal" fill="#000" textLength="57.9" lengthAdjust="spacingAndGlyphs">1.0</text><text x="1321.2" y="2507.0" font-size="43.5" font-weight="normal" fill="#000" textLength="57.9" lengthAdjust="spacingAndGlyphs">0.9</text><text x="1321.0" y="2688.7" font-size="43.5" font-weight="normal" fill="#000" textLength="57.9" lengthAdjust="spacingAndGlyphs">0.8</text><text x="1389.0" y="2724.3" font-size="43.5" font-weight="normal" fill="#000" textLength="23.2" lengthAdjust="spacingAndGlyphs">0</text><text x="1542.1" y="2724.3" font-size="43.5" font-weight="normal" fill="#000" textLength="46.3" lengthAdjust="spacingAndGlyphs">20</text><text x="1707.6" y="2724.3" font-size="43.5" font-weight="normal" fill="#000" textLength="46.3" lengthAdjust="spacingAndGlyphs">40</text><text x="1871.8" y="2724.3" font-size="43.5" font-weight="normal" fill="#000" textLength="46.3" lengthAdjust="spacingAndGlyphs">60</text><text x="2036.7" y="2724.3" font-size="43.5" font-weight="normal" fill="#000" textLength="46.3" lengthAdjust="spacingAndGlyphs">80</text><text x="2189.4" y="2724.3" font-size="43.5" font-weight="normal" fill="#000" textLength="69.5" lengthAdjust="spacingAndGlyphs">100</text><text x="2354.3" y="2724.3" font-size="43.5" font-weight="normal" fill="#000" textLength="69.5" lengthAdjust="spacingAndGlyphs">120</text>
<text x="24.9" y="96.5" font-size="80.0" font-weight="bold" fill="#000" textLength="95.5" lengthAdjust="spacingAndGlyphs">(a)</text><text x="27.5" y="1513.9" font-size="80.0" font-weight="bold" fill="#000" textLength="101.6" lengthAdjust="spacingAndGlyphs">(b)</text><text x="249.8" y="103.2" font-size="77.5" font-weight="bold" fill="#000" textLength="235.1" lengthAdjust="spacingAndGlyphs">Ge-15s</text><text x="249.3" y="533.8" font-size="77.5" font-weight="bold" fill="#000" textLength="236.3" lengthAdjust="spacingAndGlyphs">Ge-30s</text><text x="250.2" y="962.4" font-size="77.5" font-weight="bold" fill="#000" textLength="235.4" lengthAdjust="spacingAndGlyphs">Ge-60s</text><text x="2146.1" y="101.3" font-size="77.5" font-weight="bold" fill="#000" textLength="235.3" lengthAdjust="spacingAndGlyphs">Ge-15s</text><text x="2144.3" y="529.5" font-size="77.5" font-weight="bold" fill="#000" textLength="235.1" lengthAdjust="spacingAndGlyphs">Ge-30s</text><text x="2144.3" y="957.5" font-size="77.5" font-weight="bold" fill="#000" textLength="233.5" lengthAdjust="spacingAndGlyphs">Ge-60s</text><text x="246.3" y="1815.1" font-size="60.8" font-weight="bold" fill="#000" textLength="319.0" lengthAdjust="spacingAndGlyphs">Ge NPs-15s</text><text x="248.5" y="1908.8" font-size="60.8" font-weight="bold" fill="#000" textLength="318.1" lengthAdjust="spacingAndGlyphs">Ge NPs-30s</text><text x="246.8" y="2338.8" font-size="60.8" font-weight="bold" fill="#000" textLength="319.8" lengthAdjust="spacingAndGlyphs">Ge NPs-60s</text><text x="1983.3" y="1513.8" font-size="76.0" font-weight="bold" fill="#000" textLength="392.9" lengthAdjust="spacingAndGlyphs">Ge NPs-15s</text><text x="1981.7" y="1930.7" font-size="76.0" font-weight="bold" fill="#000" textLength="393.0" lengthAdjust="spacingAndGlyphs">Ge NPs-30s</text><text x="1981.7" y="2349.2" font-size="76.0" font-weight="bold" fill="#000" textLength="393.0" lengthAdjust="spacingAndGlyphs">Ge NPs-60s</text><circle cx="899.2" cy="55.6" r="15" fill="#000000"/><circle cx="894.7" cy="51.1" r="7.5" fill="#9a9a9a"/><circle cx="894.7" cy="51.1" r="5" fill="#cbcbcb"/><circle cx="894.7" cy="51.1" r="2.5" fill="#ffffff"/><g stroke="#ff0000" stroke-width="10" stroke-linecap="round"><line x1="854.4" y1="107.5" x2="885.2" y2="107.5"/><line x1="932.9" y1="107.5" x2="944.0" y2="107.5"/></g><text x="958.4" y="69.8" font-size="41.5" font-weight="bold" fill="#000" textLength="254.3" lengthAdjust="spacingAndGlyphs">Experimental</text><text x="958.4" y="121.0" font-size="41.5" font-weight="bold" fill="#000" textLength="207.1" lengthAdjust="spacingAndGlyphs">Simulation</text><circle cx="899.2" cy="486.2" r="15" fill="#000000"/><circle cx="894.7" cy="481.7" r="7.5" fill="#9a9a9a"/><circle cx="894.7" cy="481.7" r="5" fill="#cbcbcb"/><circle cx="894.7" cy="481.7" r="2.5" fill="#ffffff"/><g stroke="#ff0000" stroke-width="10" stroke-linecap="round"><line x1="854.4" y1="538.1" x2="885.2" y2="538.1"/><line x1="932.9" y1="538.1" x2="944.0" y2="538.1"/></g><text x="958.5" y="501.3" font-size="41.5" font-weight="bold" fill="#000" textLength="254.3" lengthAdjust="spacingAndGlyphs">Experimental</text><text x="958.4" y="552.6" font-size="41.5" font-weight="bold" fill="#000" textLength="207.4" lengthAdjust="spacingAndGlyphs">Simulation</text><circle cx="899.2" cy="914.7" r="15" fill="#000000"/><circle cx="894.7" cy="910.2" r="7.5" fill="#9a9a9a"/><circle cx="894.7" cy="910.2" r="5" fill="#cbcbcb"/><circle cx="894.7" cy="910.2" r="2.5" fill="#ffffff"/><g stroke="#ff0000" stroke-width="10" stroke-linecap="round"><line x1="854.4" y1="966.9" x2="885.2" y2="966.9"/><line x1="932.9" y1="966.9" x2="945.5" y2="966.9"/></g><text x="958.5" y="929.8" font-size="41.5" font-weight="bold" fill="#000" textLength="254.9" lengthAdjust="spacingAndGlyphs">Experimental</text><text x="958.4" y="979.6" font-size="41.5" font-weight="bold" fill="#000" textLength="208.3" lengthAdjust="spacingAndGlyphs">Simulation</text><circle cx="901.6" cy="1751.5" r="15" fill="#000000"/><circle cx="897.1" cy="1747.0" r="7.5" fill="#9a9a9a"/><circle cx="897.1" cy="1747.0" r="5" fill="#cbcbcb"/><circle cx="897.1" cy="1747.0" r="2.5" fill="#ffffff"/><g stroke="#ff0000" stroke-width="10" stroke-linecap="round"><line x1="855.9" y1="1802.8" x2="888.2" y2="1802.8"/><line x1="934.4" y1="1802.8" x2="948.5" y2="1802.8"/></g><text x="961.5" y="1765.6" font-size="41.5" font-weight="bold" fill="#000" textLength="253.7" lengthAdjust="spacingAndGlyphs">Experimental</text><text x="961.4" y="1816.4" font-size="41.5" font-weight="bold" fill="#000" textLength="207.5" lengthAdjust="spacingAndGlyphs">Simulation</text><circle cx="904.7" cy="1898.9" r="15" fill="#000000"/><circle cx="900.2" cy="1894.4" r="7.5" fill="#9a9a9a"/><circle cx="900.2" cy="1894.4" r="5" fill="#cbcbcb"/><circle cx="900.2" cy="1894.4" r="2.5" fill="#ffffff"/><g stroke="#ff0000" stroke-width="10" stroke-linecap="round"><line x1="858.9" y1="1950.2" x2="891.2" y2="1950.2"/><line x1="937.4" y1="1950.2" x2="951.6" y2="1950.2"/></g><text x="963.6" y="1914.0" font-size="41.5" font-weight="bold" fill="#000" textLength="254.6" lengthAdjust="spacingAndGlyphs">Experimental</text><text x="963.8" y="1963.8" font-size="41.5" font-weight="bold" fill="#000" textLength="208.1" lengthAdjust="spacingAndGlyphs">Simulation</text><circle cx="894.7" cy="2308.3" r="15" fill="#000000"/><circle cx="890.2" cy="2303.8" r="7.5" fill="#9a9a9a"/><circle cx="890.2" cy="2303.8" r="5" fill="#cbcbcb"/><circle cx="890.2" cy="2303.8" r="2.5" fill="#ffffff"/><g stroke="#ff0000" stroke-width="10" stroke-linecap="round"><line x1="849.9" y1="2360.2" x2="880.6" y2="2360.2"/><line x1="928.4" y1="2360.2" x2="939.5" y2="2360.2"/></g><text x="953.4" y="2324.0" font-size="41.5" font-weight="bold" fill="#000" textLength="254.9" lengthAdjust="spacingAndGlyphs">Experimental</text><text x="953.8" y="2374.7" font-size="41.5" font-weight="bold" fill="#000" textLength="208.1" lengthAdjust="spacingAndGlyphs">Simulation</text><text x="606.2" y="191.0" font-size="50.0" font-weight="normal" fill="#ff0000" style="font-family:'Liberation Serif',serif" stroke="#ff0000" stroke-width="1.3" textLength="32.8" lengthAdjust="spacingAndGlyphs">Δ</text><text x="638.9" y="191.6" font-size="53.5" font-weight="bold" fill="#ff0000" textLength="196.6" lengthAdjust="spacingAndGlyphs">T = 3.8%</text><text x="597.3" y="603.6" font-size="50.0" font-weight="normal" fill="#ff0000" style="font-family:'Liberation Serif',serif" stroke="#ff0000" stroke-width="1.3" textLength="32.8" lengthAdjust="spacingAndGlyphs">Δ</text><text x="630.0" y="604.2" font-size="53.5" font-weight="bold" fill="#ff0000" textLength="196.5" lengthAdjust="spacingAndGlyphs">T = 3.6%</text><text x="583.3" y="1091.8" font-size="50.0" font-weight="normal" fill="#ff0000" style="font-family:'Liberation Serif',serif" stroke="#ff0000" stroke-width="1.3" textLength="32.8" lengthAdjust="spacingAndGlyphs">Δ</text><text x="616.0" y="1092.4" font-size="53.5" font-weight="bold" fill="#ff0000" textLength="195.4" lengthAdjust="spacingAndGlyphs">T = 3.4%</text><text x="454.0" y="1572.3" font-size="50.0" font-weight="normal" fill="#ff0000" style="font-family:'Liberation Serif',serif" stroke="#ff0000" stroke-width="1.3" textLength="32.8" lengthAdjust="spacingAndGlyphs">Δ</text><text x="486.7" y="1572.9" font-size="53.5" font-weight="bold" fill="#ff0000" textLength="192.9" lengthAdjust="spacingAndGlyphs">T = 1.9%</text><text x="454.0" y="2136.6" font-size="50.0" font-weight="normal" fill="#ff0000" style="font-family:'Liberation Serif',serif" stroke="#ff0000" stroke-width="1.3" textLength="32.8" lengthAdjust="spacingAndGlyphs">Δ</text><text x="486.7" y="2137.2" font-size="53.5" font-weight="bold" fill="#ff0000" textLength="195.3" lengthAdjust="spacingAndGlyphs">T = 1.5%</text><text x="410.4" y="2600.2" font-size="50.0" font-weight="normal" fill="#ff0000" style="font-family:'Liberation Serif',serif" stroke="#ff0000" stroke-width="1.3" textLength="32.8" lengthAdjust="spacingAndGlyphs">Δ</text><text x="443.1" y="2600.8" font-size="53.5" font-weight="bold" fill="#ff0000" textLength="196.3" lengthAdjust="spacingAndGlyphs">T = 1.4%</text><text x="1681.3" y="347.0" font-size="58.0" font-weight="bold" fill="#ff0000" textLength="628.7" lengthAdjust="spacingAndGlyphs">Modulation Depth : 58 %</text><text x="1709.3" y="759.0" font-size="58.0" font-weight="bold" fill="#ff0000" textLength="631.0" lengthAdjust="spacingAndGlyphs">Modulation Depth : 56 %</text><text x="1698.1" y="1187.5" font-size="58.0" font-weight="bold" fill="#ff0000" textLength="614.8" lengthAdjust="spacingAndGlyphs">Modulation Depth : 52%</text><text x="1668.2" y="1664.6" font-size="58.0" font-weight="bold" fill="#ff0000" textLength="645.0" lengthAdjust="spacingAndGlyphs">Modulation Depth : 5.5 %</text><text x="1702.4" y="2084.3" font-size="58.0" font-weight="bold" fill="#ff0000" textLength="646.2" lengthAdjust="spacingAndGlyphs">Modulation Depth : 4.6 %</text><text x="1692.3" y="2479.3" font-size="58.0" font-weight="bold" fill="#ff0000" textLength="645.5" lengthAdjust="spacingAndGlyphs">Modulation Depth : 4.3 %</text><text transform="translate(115.7 834.9) rotate(-90)" x="-0.5" y="0" font-size="55.0" font-weight="bold" textLength="359.1" lengthAdjust="spacingAndGlyphs">Transmittance</text><text transform="translate(112.9 2231.7) rotate(-90)" x="-0.5" y="0" font-size="55.0" font-weight="bold" textLength="359.6" lengthAdjust="spacingAndGlyphs">Transmittance</text><text transform="translate(1299.1 801.0) rotate(-90)" x="-1.3" y="0" font-size="55.0" font-weight="bold" textLength="311.1" lengthAdjust="spacingAndGlyphs">Absorbance</text><text transform="translate(1293.3 2204.8) rotate(-90)" x="-1.3" y="0" font-size="55.0" font-weight="bold" textLength="311.3" lengthAdjust="spacingAndGlyphs">Absorbance</text><text x="643.7" y="1390.9" font-size="55.0" font-weight="bold" fill="#000" textLength="35.2" lengthAdjust="spacingAndGlyphs">P</text><text stroke="#000" stroke-width="1" x="678.3" y="1411.5" font-size="31.0" font-weight="normal" fill="#000" textLength="69.8" lengthAdjust="spacingAndGlyphs">peak</text><text x="763.7" y="1389.4" font-size="41.0" font-weight="bold" fill="#000">(</text><text x="781.0" y="1390.9" font-size="55.0" font-weight="bold" fill="#000" textLength="50.9" lengthAdjust="spacingAndGlyphs">W</text><text x="831.8" y="1389.4" font-size="41.0" font-weight="bold" fill="#000">)</text><text x="1807.4" y="1385.9" font-size="55.0" font-weight="bold" fill="#000" textLength="35.0" lengthAdjust="spacingAndGlyphs">P</text><text stroke="#000" stroke-width="1" x="1842.4" y="1406.3" font-size="31.0" font-weight="normal" fill="#000" textLength="68.5" lengthAdjust="spacingAndGlyphs">peak</text><text x="1928.4" y="1384.4" font-size="41.0" font-weight="bold" fill="#000">(</text><text x="1944.2" y="1385.9" font-size="55.0" font-weight="bold" fill="#000" textLength="50.8" lengthAdjust="spacingAndGlyphs">W</text><text x="1994.3" y="1384.4" font-size="41.0" font-weight="bold" fill="#000">)</text><text x="641.6" y="2774.7" font-size="55.0" font-weight="bold" fill="#000" textLength="34.5" lengthAdjust="spacingAndGlyphs">P</text><text stroke="#000" stroke-width="1" x="676.4" y="2796.1" font-size="31.0" font-weight="normal" fill="#000" textLength="69.0" lengthAdjust="spacingAndGlyphs">peak</text><text x="761.9" y="2773.2" font-size="41.0" font-weight="bold" fill="#000">(</text><text x="777.4" y="2774.7" font-size="55.0" font-weight="bold" fill="#000" textLength="51.7" lengthAdjust="spacingAndGlyphs">W</text><text x="828.3" y="2773.2" font-size="41.0" font-weight="bold" fill="#000">)</text><text x="1803.5" y="2780.6" font-size="55.0" font-weight="bold" fill="#000" textLength="34.9" lengthAdjust="spacingAndGlyphs">P</text><text stroke="#000" stroke-width="1" x="1838.7" y="2801.3" font-size="31.0" font-weight="normal" fill="#000" textLength="68.6" lengthAdjust="spacingAndGlyphs">peak</text><text x="1924.0" y="2779.1" font-size="41.0" font-weight="bold" fill="#000">(</text><text x="1939.9" y="2780.6" font-size="55.0" font-weight="bold" fill="#000" textLength="50.7" lengthAdjust="spacingAndGlyphs">W</text><text x="1991.3" y="2779.1" font-size="41.0" font-weight="bold" fill="#000">)</text>
</svg></body></html>
